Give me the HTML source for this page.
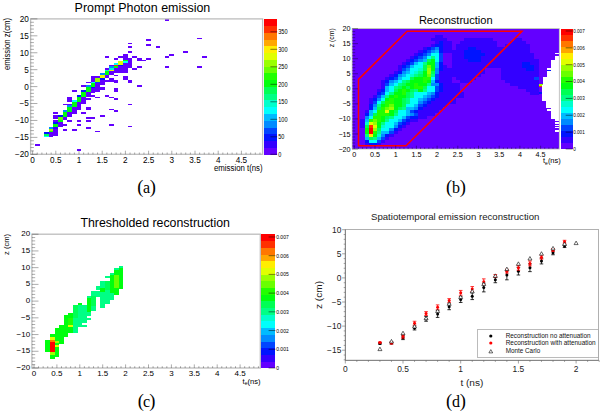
<!DOCTYPE html><html><head><meta charset="utf-8"><style>html,body{margin:0;padding:0;background:#fff;}svg{display:block;}rect{shape-rendering:crispEdges;}text{font-family:"Liberation Sans",sans-serif;}text.ser{font-family:"Liberation Serif",serif;}</style></head><body>
<svg width="602" height="414" viewBox="0 0 602 414">
<rect width="602" height="414" fill="#fff"/>
<rect x="44.20" y="135.68" width="4.64" height="1.69" fill="#00fffc"/>
<rect x="44.20" y="133.99" width="4.64" height="1.69" fill="#00ff55"/>
<rect x="44.20" y="132.30" width="4.64" height="1.69" fill="#0014ff"/>
<rect x="48.84" y="130.61" width="4.64" height="1.69" fill="#22ff00"/>
<rect x="48.84" y="128.91" width="4.64" height="1.69" fill="#99ff00"/>
<rect x="48.84" y="127.22" width="4.64" height="1.69" fill="#008bff"/>
<rect x="53.48" y="127.22" width="4.64" height="1.69" fill="#3300ff"/>
<rect x="53.48" y="125.53" width="4.64" height="1.69" fill="#00ff0e"/>
<rect x="53.48" y="123.84" width="4.64" height="1.69" fill="#00ff0e"/>
<rect x="53.48" y="122.14" width="4.64" height="1.69" fill="#0014ff"/>
<rect x="58.12" y="120.45" width="4.64" height="1.69" fill="#00ff0e"/>
<rect x="58.12" y="118.76" width="4.64" height="1.69" fill="#69ff00"/>
<rect x="58.12" y="117.07" width="4.64" height="1.69" fill="#69ff00"/>
<rect x="58.12" y="115.37" width="4.64" height="1.69" fill="#0014ff"/>
<rect x="62.76" y="115.37" width="4.64" height="1.69" fill="#00ff0e"/>
<rect x="62.76" y="113.68" width="4.64" height="1.69" fill="#00ff0e"/>
<rect x="62.76" y="111.99" width="4.64" height="1.69" fill="#00ff0e"/>
<rect x="62.76" y="110.30" width="4.64" height="1.69" fill="#008bff"/>
<rect x="67.40" y="110.30" width="4.64" height="1.69" fill="#00ff0e"/>
<rect x="67.40" y="108.60" width="4.64" height="1.69" fill="#00ff0e"/>
<rect x="67.40" y="106.91" width="4.64" height="1.69" fill="#00ff0e"/>
<rect x="67.40" y="105.22" width="4.64" height="1.69" fill="#008bff"/>
<rect x="72.04" y="105.22" width="4.64" height="1.69" fill="#00ff0e"/>
<rect x="72.04" y="103.53" width="4.64" height="1.69" fill="#00ff0e"/>
<rect x="72.04" y="101.83" width="4.64" height="1.69" fill="#00ff0e"/>
<rect x="72.04" y="100.14" width="4.64" height="1.69" fill="#00fffc"/>
<rect x="76.68" y="100.14" width="4.64" height="1.69" fill="#00ff0e"/>
<rect x="76.68" y="98.45" width="4.64" height="1.69" fill="#00ff0e"/>
<rect x="76.68" y="96.76" width="4.64" height="1.69" fill="#00ff0e"/>
<rect x="76.68" y="95.06" width="4.64" height="1.69" fill="#0014ff"/>
<rect x="81.32" y="95.06" width="4.64" height="1.69" fill="#00ff0e"/>
<rect x="81.32" y="93.37" width="4.64" height="1.69" fill="#00ff0e"/>
<rect x="81.32" y="91.68" width="4.64" height="1.69" fill="#00ff0e"/>
<rect x="81.32" y="89.99" width="4.64" height="1.69" fill="#0014ff"/>
<rect x="85.96" y="89.99" width="4.64" height="1.69" fill="#00ff0e"/>
<rect x="85.96" y="88.29" width="4.64" height="1.69" fill="#00ff0e"/>
<rect x="85.96" y="86.60" width="4.64" height="1.69" fill="#00ff0e"/>
<rect x="85.96" y="84.91" width="4.64" height="1.69" fill="#008bff"/>
<rect x="90.60" y="86.60" width="4.64" height="1.69" fill="#0014ff"/>
<rect x="90.60" y="84.91" width="4.64" height="1.69" fill="#00ff0e"/>
<rect x="90.60" y="83.22" width="4.64" height="1.69" fill="#00ff0e"/>
<rect x="90.60" y="81.52" width="4.64" height="1.69" fill="#00fffc"/>
<rect x="95.24" y="81.52" width="4.64" height="1.69" fill="#0044ff"/>
<rect x="95.24" y="79.83" width="4.64" height="1.69" fill="#99ff00"/>
<rect x="95.24" y="78.14" width="4.64" height="1.69" fill="#99ff00"/>
<rect x="99.88" y="78.14" width="4.64" height="1.69" fill="#0014ff"/>
<rect x="99.88" y="76.45" width="4.64" height="1.69" fill="#e0ff00"/>
<rect x="99.88" y="74.75" width="4.64" height="1.69" fill="#e0ff00"/>
<rect x="99.88" y="73.06" width="4.64" height="1.69" fill="#008bff"/>
<rect x="104.52" y="73.06" width="4.64" height="1.69" fill="#00ff0e"/>
<rect x="104.52" y="71.37" width="4.64" height="1.69" fill="#00ff0e"/>
<rect x="104.52" y="69.68" width="4.64" height="1.69" fill="#00ffcc"/>
<rect x="109.16" y="69.68" width="4.64" height="1.69" fill="#e0ff00"/>
<rect x="109.16" y="67.98" width="4.64" height="1.69" fill="#00ffcc"/>
<rect x="109.16" y="66.29" width="4.64" height="1.69" fill="#008bff"/>
<rect x="113.80" y="66.29" width="4.64" height="1.69" fill="#00ff0e"/>
<rect x="113.80" y="64.60" width="4.64" height="1.69" fill="#ff3000"/>
<rect x="113.80" y="62.91" width="4.64" height="1.69" fill="#00fffc"/>
<rect x="118.44" y="64.60" width="4.64" height="1.69" fill="#0014ff"/>
<rect x="118.44" y="62.91" width="4.64" height="1.69" fill="#e0ff00"/>
<rect x="118.44" y="61.21" width="4.64" height="1.69" fill="#e0ff00"/>
<rect x="123.08" y="61.21" width="4.64" height="1.69" fill="#00fffc"/>
<rect x="123.08" y="59.52" width="4.64" height="1.69" fill="#00ff0e"/>
<rect x="48.84" y="135.68" width="4.64" height="1.69" fill="#6300ff"/>
<rect x="48.84" y="133.99" width="4.64" height="1.69" fill="#6300ff"/>
<rect x="48.84" y="132.30" width="4.64" height="1.69" fill="#6300ff"/>
<rect x="53.48" y="133.99" width="4.64" height="1.69" fill="#6300ff"/>
<rect x="53.48" y="132.30" width="4.64" height="1.69" fill="#6300ff"/>
<rect x="53.48" y="130.61" width="4.64" height="1.69" fill="#6300ff"/>
<rect x="53.48" y="128.91" width="4.64" height="1.69" fill="#6300ff"/>
<rect x="53.48" y="120.45" width="4.64" height="1.69" fill="#6300ff"/>
<rect x="53.48" y="117.07" width="4.64" height="1.69" fill="#6300ff"/>
<rect x="53.48" y="111.99" width="4.64" height="1.69" fill="#6300ff"/>
<rect x="58.12" y="125.53" width="4.64" height="1.69" fill="#6300ff"/>
<rect x="58.12" y="123.84" width="4.64" height="1.69" fill="#6300ff"/>
<rect x="58.12" y="122.14" width="4.64" height="1.69" fill="#6300ff"/>
<rect x="62.76" y="118.76" width="4.64" height="1.69" fill="#6300ff"/>
<rect x="62.76" y="117.07" width="4.64" height="1.69" fill="#6300ff"/>
<rect x="62.76" y="123.84" width="4.64" height="1.69" fill="#6300ff"/>
<rect x="62.76" y="128.91" width="4.64" height="1.69" fill="#6300ff"/>
<rect x="67.40" y="115.37" width="4.64" height="1.69" fill="#6300ff"/>
<rect x="67.40" y="113.68" width="4.64" height="1.69" fill="#6300ff"/>
<rect x="67.40" y="111.99" width="4.64" height="1.69" fill="#6300ff"/>
<rect x="67.40" y="103.53" width="4.64" height="1.69" fill="#6300ff"/>
<rect x="67.40" y="100.14" width="4.64" height="1.69" fill="#6300ff"/>
<rect x="67.40" y="98.45" width="4.64" height="1.69" fill="#6300ff"/>
<rect x="67.40" y="120.45" width="4.64" height="1.69" fill="#6300ff"/>
<rect x="72.04" y="111.99" width="4.64" height="1.69" fill="#6300ff"/>
<rect x="72.04" y="110.30" width="4.64" height="1.69" fill="#6300ff"/>
<rect x="72.04" y="108.60" width="4.64" height="1.69" fill="#6300ff"/>
<rect x="72.04" y="106.91" width="4.64" height="1.69" fill="#6300ff"/>
<rect x="72.04" y="89.99" width="4.64" height="1.69" fill="#6300ff"/>
<rect x="76.68" y="105.22" width="4.64" height="1.69" fill="#6300ff"/>
<rect x="76.68" y="103.53" width="4.64" height="1.69" fill="#6300ff"/>
<rect x="76.68" y="101.83" width="4.64" height="1.69" fill="#6300ff"/>
<rect x="76.68" y="108.60" width="4.64" height="1.69" fill="#6300ff"/>
<rect x="76.68" y="106.91" width="4.64" height="1.69" fill="#6300ff"/>
<rect x="81.32" y="100.14" width="4.64" height="1.69" fill="#6300ff"/>
<rect x="81.32" y="98.45" width="4.64" height="1.69" fill="#6300ff"/>
<rect x="81.32" y="96.76" width="4.64" height="1.69" fill="#6300ff"/>
<rect x="81.32" y="84.91" width="4.64" height="1.69" fill="#6300ff"/>
<rect x="81.32" y="101.83" width="4.64" height="1.69" fill="#6300ff"/>
<rect x="85.96" y="95.06" width="4.64" height="1.69" fill="#6300ff"/>
<rect x="85.96" y="93.37" width="4.64" height="1.69" fill="#6300ff"/>
<rect x="85.96" y="91.68" width="4.64" height="1.69" fill="#6300ff"/>
<rect x="85.96" y="81.52" width="4.64" height="1.69" fill="#6300ff"/>
<rect x="85.96" y="98.45" width="4.64" height="1.69" fill="#6300ff"/>
<rect x="85.96" y="106.91" width="4.64" height="1.69" fill="#6300ff"/>
<rect x="90.60" y="91.68" width="4.64" height="1.69" fill="#6300ff"/>
<rect x="90.60" y="89.99" width="4.64" height="1.69" fill="#6300ff"/>
<rect x="90.60" y="88.29" width="4.64" height="1.69" fill="#6300ff"/>
<rect x="90.60" y="79.83" width="4.64" height="1.69" fill="#6300ff"/>
<rect x="90.60" y="78.14" width="4.64" height="1.69" fill="#6300ff"/>
<rect x="90.60" y="76.45" width="4.64" height="1.69" fill="#6300ff"/>
<rect x="95.24" y="89.99" width="4.64" height="1.69" fill="#6300ff"/>
<rect x="95.24" y="88.29" width="4.64" height="1.69" fill="#6300ff"/>
<rect x="95.24" y="86.60" width="4.64" height="1.69" fill="#6300ff"/>
<rect x="95.24" y="84.91" width="4.64" height="1.69" fill="#6300ff"/>
<rect x="95.24" y="83.22" width="4.64" height="1.69" fill="#6300ff"/>
<rect x="95.24" y="76.45" width="4.64" height="1.69" fill="#6300ff"/>
<rect x="99.88" y="83.22" width="4.64" height="1.69" fill="#6300ff"/>
<rect x="99.88" y="81.52" width="4.64" height="1.69" fill="#6300ff"/>
<rect x="99.88" y="79.83" width="4.64" height="1.69" fill="#6300ff"/>
<rect x="99.88" y="88.29" width="4.64" height="1.69" fill="#6300ff"/>
<rect x="99.88" y="86.60" width="4.64" height="1.69" fill="#6300ff"/>
<rect x="104.52" y="76.45" width="4.64" height="1.69" fill="#6300ff"/>
<rect x="104.52" y="74.75" width="4.64" height="1.69" fill="#6300ff"/>
<rect x="104.52" y="67.98" width="4.64" height="1.69" fill="#6300ff"/>
<rect x="104.52" y="56.14" width="4.64" height="1.69" fill="#6300ff"/>
<rect x="104.52" y="79.83" width="4.64" height="1.69" fill="#6300ff"/>
<rect x="109.16" y="73.06" width="4.64" height="1.69" fill="#6300ff"/>
<rect x="109.16" y="71.37" width="4.64" height="1.69" fill="#6300ff"/>
<rect x="109.16" y="64.60" width="4.64" height="1.69" fill="#6300ff"/>
<rect x="109.16" y="79.83" width="4.64" height="1.69" fill="#6300ff"/>
<rect x="109.16" y="78.14" width="4.64" height="1.69" fill="#6300ff"/>
<rect x="113.80" y="71.37" width="4.64" height="1.69" fill="#6300ff"/>
<rect x="113.80" y="69.68" width="4.64" height="1.69" fill="#6300ff"/>
<rect x="113.80" y="67.98" width="4.64" height="1.69" fill="#6300ff"/>
<rect x="113.80" y="74.75" width="4.64" height="1.69" fill="#6300ff"/>
<rect x="113.80" y="81.52" width="4.64" height="1.69" fill="#6300ff"/>
<rect x="113.80" y="79.83" width="4.64" height="1.69" fill="#6300ff"/>
<rect x="113.80" y="57.83" width="4.64" height="1.69" fill="#6300ff"/>
<rect x="113.80" y="89.99" width="4.64" height="1.69" fill="#6300ff"/>
<rect x="118.44" y="71.37" width="4.64" height="1.69" fill="#6300ff"/>
<rect x="118.44" y="69.68" width="4.64" height="1.69" fill="#6300ff"/>
<rect x="118.44" y="67.98" width="4.64" height="1.69" fill="#6300ff"/>
<rect x="118.44" y="66.29" width="4.64" height="1.69" fill="#6300ff"/>
<rect x="123.08" y="71.37" width="4.64" height="1.69" fill="#6300ff"/>
<rect x="123.08" y="69.68" width="4.64" height="1.69" fill="#6300ff"/>
<rect x="123.08" y="67.98" width="4.64" height="1.69" fill="#6300ff"/>
<rect x="123.08" y="66.29" width="4.64" height="1.69" fill="#6300ff"/>
<rect x="123.08" y="64.60" width="4.64" height="1.69" fill="#6300ff"/>
<rect x="123.08" y="62.91" width="4.64" height="1.69" fill="#6300ff"/>
<rect x="123.08" y="57.83" width="4.64" height="1.69" fill="#6300ff"/>
<rect x="123.08" y="56.14" width="4.64" height="1.69" fill="#6300ff"/>
<rect x="123.08" y="54.44" width="4.64" height="1.69" fill="#6300ff"/>
<rect x="123.08" y="78.14" width="4.64" height="1.69" fill="#6300ff"/>
<rect x="123.08" y="76.45" width="4.64" height="1.69" fill="#6300ff"/>
<rect x="127.72" y="66.29" width="4.64" height="1.69" fill="#6300ff"/>
<rect x="127.72" y="64.60" width="4.64" height="1.69" fill="#6300ff"/>
<rect x="127.72" y="62.91" width="4.64" height="1.69" fill="#6300ff"/>
<rect x="127.72" y="61.21" width="4.64" height="1.69" fill="#6300ff"/>
<rect x="127.72" y="59.52" width="4.64" height="1.69" fill="#6300ff"/>
<rect x="127.72" y="57.83" width="4.64" height="1.69" fill="#6300ff"/>
<rect x="127.72" y="51.06" width="4.64" height="1.69" fill="#6300ff"/>
<rect x="127.72" y="45.98" width="4.64" height="1.69" fill="#6300ff"/>
<rect x="127.72" y="81.52" width="4.64" height="1.69" fill="#6300ff"/>
<rect x="132.36" y="56.14" width="4.64" height="1.69" fill="#6300ff"/>
<rect x="132.36" y="67.98" width="4.64" height="1.69" fill="#6300ff"/>
<rect x="137.00" y="59.52" width="4.64" height="1.69" fill="#6300ff"/>
<rect x="137.00" y="57.83" width="4.64" height="1.69" fill="#6300ff"/>
<rect x="137.00" y="66.29" width="4.64" height="1.69" fill="#6300ff"/>
<rect x="34.92" y="144.15" width="4.64" height="1.69" fill="#6300ff"/>
<rect x="76.68" y="149.22" width="4.64" height="1.69" fill="#6300ff"/>
<rect x="53.48" y="115.37" width="4.64" height="1.69" fill="#6300ff"/>
<rect x="62.76" y="103.53" width="4.64" height="1.69" fill="#6300ff"/>
<rect x="67.40" y="96.76" width="4.64" height="1.69" fill="#6300ff"/>
<rect x="72.04" y="128.91" width="4.64" height="1.69" fill="#6300ff"/>
<rect x="76.68" y="120.45" width="4.64" height="1.69" fill="#6300ff"/>
<rect x="76.68" y="123.84" width="4.64" height="1.69" fill="#6300ff"/>
<rect x="81.32" y="111.99" width="4.64" height="1.69" fill="#6300ff"/>
<rect x="85.96" y="117.07" width="4.64" height="1.69" fill="#6300ff"/>
<rect x="85.96" y="120.45" width="4.64" height="1.69" fill="#6300ff"/>
<rect x="85.96" y="127.22" width="4.64" height="1.69" fill="#6300ff"/>
<rect x="90.60" y="117.07" width="4.64" height="1.69" fill="#6300ff"/>
<rect x="95.24" y="130.61" width="4.64" height="1.69" fill="#6300ff"/>
<rect x="99.88" y="115.37" width="4.64" height="1.69" fill="#6300ff"/>
<rect x="90.60" y="95.06" width="4.64" height="1.69" fill="#6300ff"/>
<rect x="95.24" y="96.76" width="4.64" height="1.69" fill="#6300ff"/>
<rect x="104.52" y="95.06" width="4.64" height="1.69" fill="#6300ff"/>
<rect x="109.16" y="96.76" width="4.64" height="1.69" fill="#6300ff"/>
<rect x="113.80" y="98.45" width="4.64" height="1.69" fill="#6300ff"/>
<rect x="109.16" y="108.60" width="4.64" height="1.69" fill="#6300ff"/>
<rect x="113.80" y="110.30" width="4.64" height="1.69" fill="#6300ff"/>
<rect x="109.16" y="123.84" width="4.64" height="1.69" fill="#6300ff"/>
<rect x="127.72" y="103.53" width="4.64" height="1.69" fill="#6300ff"/>
<rect x="127.72" y="125.53" width="4.64" height="1.69" fill="#6300ff"/>
<rect x="113.80" y="88.29" width="4.64" height="1.69" fill="#6300ff"/>
<rect x="164.84" y="18.90" width="4.64" height="1.69" fill="#6300ff"/>
<rect x="127.72" y="42.60" width="4.64" height="1.69" fill="#6300ff"/>
<rect x="146.28" y="39.21" width="4.64" height="1.69" fill="#6300ff"/>
<rect x="146.28" y="44.29" width="4.64" height="1.69" fill="#6300ff"/>
<rect x="155.56" y="45.98" width="4.64" height="1.69" fill="#6300ff"/>
<rect x="183.40" y="51.06" width="4.64" height="1.69" fill="#6300ff"/>
<rect x="164.84" y="56.14" width="4.64" height="1.69" fill="#6300ff"/>
<rect x="169.48" y="54.44" width="4.64" height="1.69" fill="#6300ff"/>
<rect x="164.84" y="66.29" width="4.64" height="1.69" fill="#6300ff"/>
<rect x="137.00" y="84.91" width="4.64" height="1.69" fill="#6300ff"/>
<rect x="141.64" y="59.52" width="4.64" height="1.69" fill="#6300ff"/>
<rect x="146.28" y="57.83" width="4.64" height="1.69" fill="#6300ff"/>
<rect x="118.44" y="56.14" width="4.64" height="1.69" fill="#6300ff"/>
<rect x="127.72" y="79.83" width="4.64" height="1.69" fill="#6300ff"/>
<rect x="197.32" y="37.52" width="4.64" height="1.69" fill="#6300ff"/>
<rect x="201.96" y="56.14" width="4.64" height="1.69" fill="#6300ff"/>
<rect x="197.32" y="66.29" width="4.64" height="1.69" fill="#6300ff"/>
<rect x="85.96" y="108.60" width="4.64" height="1.69" fill="#6300ff"/>
<rect x="30.6" y="18.9" width="232.00" height="135.40" fill="none" stroke="#bdbdbd" stroke-width="1.3" style="shape-rendering:auto"/>
<line x1="30.6" y1="154.30" x2="37.40" y2="154.30" stroke="#000" stroke-width="0.6" stroke-opacity="0.55"/>
<line x1="30.6" y1="150.91" x2="33.90" y2="150.91" stroke="#000" stroke-width="0.6" stroke-opacity="0.55"/>
<line x1="30.6" y1="147.53" x2="33.90" y2="147.53" stroke="#000" stroke-width="0.6" stroke-opacity="0.55"/>
<line x1="30.6" y1="144.14" x2="33.90" y2="144.14" stroke="#000" stroke-width="0.6" stroke-opacity="0.55"/>
<line x1="30.6" y1="140.76" x2="33.90" y2="140.76" stroke="#000" stroke-width="0.6" stroke-opacity="0.55"/>
<line x1="30.6" y1="137.38" x2="37.40" y2="137.38" stroke="#000" stroke-width="0.6" stroke-opacity="0.55"/>
<line x1="30.6" y1="133.99" x2="33.90" y2="133.99" stroke="#000" stroke-width="0.6" stroke-opacity="0.55"/>
<line x1="30.6" y1="130.60" x2="33.90" y2="130.60" stroke="#000" stroke-width="0.6" stroke-opacity="0.55"/>
<line x1="30.6" y1="127.22" x2="33.90" y2="127.22" stroke="#000" stroke-width="0.6" stroke-opacity="0.55"/>
<line x1="30.6" y1="123.83" x2="33.90" y2="123.83" stroke="#000" stroke-width="0.6" stroke-opacity="0.55"/>
<line x1="30.6" y1="120.45" x2="37.40" y2="120.45" stroke="#000" stroke-width="0.6" stroke-opacity="0.55"/>
<line x1="30.6" y1="117.06" x2="33.90" y2="117.06" stroke="#000" stroke-width="0.6" stroke-opacity="0.55"/>
<line x1="30.6" y1="113.68" x2="33.90" y2="113.68" stroke="#000" stroke-width="0.6" stroke-opacity="0.55"/>
<line x1="30.6" y1="110.29" x2="33.90" y2="110.29" stroke="#000" stroke-width="0.6" stroke-opacity="0.55"/>
<line x1="30.6" y1="106.91" x2="33.90" y2="106.91" stroke="#000" stroke-width="0.6" stroke-opacity="0.55"/>
<line x1="30.6" y1="103.52" x2="37.40" y2="103.52" stroke="#000" stroke-width="0.6" stroke-opacity="0.55"/>
<line x1="30.6" y1="100.14" x2="33.90" y2="100.14" stroke="#000" stroke-width="0.6" stroke-opacity="0.55"/>
<line x1="30.6" y1="96.75" x2="33.90" y2="96.75" stroke="#000" stroke-width="0.6" stroke-opacity="0.55"/>
<line x1="30.6" y1="93.37" x2="33.90" y2="93.37" stroke="#000" stroke-width="0.6" stroke-opacity="0.55"/>
<line x1="30.6" y1="89.98" x2="33.90" y2="89.98" stroke="#000" stroke-width="0.6" stroke-opacity="0.55"/>
<line x1="30.6" y1="86.60" x2="37.40" y2="86.60" stroke="#000" stroke-width="0.6" stroke-opacity="0.55"/>
<line x1="30.6" y1="83.21" x2="33.90" y2="83.21" stroke="#000" stroke-width="0.6" stroke-opacity="0.55"/>
<line x1="30.6" y1="79.83" x2="33.90" y2="79.83" stroke="#000" stroke-width="0.6" stroke-opacity="0.55"/>
<line x1="30.6" y1="76.44" x2="33.90" y2="76.44" stroke="#000" stroke-width="0.6" stroke-opacity="0.55"/>
<line x1="30.6" y1="73.06" x2="33.90" y2="73.06" stroke="#000" stroke-width="0.6" stroke-opacity="0.55"/>
<line x1="30.6" y1="69.67" x2="37.40" y2="69.67" stroke="#000" stroke-width="0.6" stroke-opacity="0.55"/>
<line x1="30.6" y1="66.29" x2="33.90" y2="66.29" stroke="#000" stroke-width="0.6" stroke-opacity="0.55"/>
<line x1="30.6" y1="62.90" x2="33.90" y2="62.90" stroke="#000" stroke-width="0.6" stroke-opacity="0.55"/>
<line x1="30.6" y1="59.52" x2="33.90" y2="59.52" stroke="#000" stroke-width="0.6" stroke-opacity="0.55"/>
<line x1="30.6" y1="56.13" x2="33.90" y2="56.13" stroke="#000" stroke-width="0.6" stroke-opacity="0.55"/>
<line x1="30.6" y1="52.75" x2="37.40" y2="52.75" stroke="#000" stroke-width="0.6" stroke-opacity="0.55"/>
<line x1="30.6" y1="49.36" x2="33.90" y2="49.36" stroke="#000" stroke-width="0.6" stroke-opacity="0.55"/>
<line x1="30.6" y1="45.98" x2="33.90" y2="45.98" stroke="#000" stroke-width="0.6" stroke-opacity="0.55"/>
<line x1="30.6" y1="42.59" x2="33.90" y2="42.59" stroke="#000" stroke-width="0.6" stroke-opacity="0.55"/>
<line x1="30.6" y1="39.21" x2="33.90" y2="39.21" stroke="#000" stroke-width="0.6" stroke-opacity="0.55"/>
<line x1="30.6" y1="35.82" x2="37.40" y2="35.82" stroke="#000" stroke-width="0.6" stroke-opacity="0.55"/>
<line x1="30.6" y1="32.44" x2="33.90" y2="32.44" stroke="#000" stroke-width="0.6" stroke-opacity="0.55"/>
<line x1="30.6" y1="29.05" x2="33.90" y2="29.05" stroke="#000" stroke-width="0.6" stroke-opacity="0.55"/>
<line x1="30.6" y1="25.67" x2="33.90" y2="25.67" stroke="#000" stroke-width="0.6" stroke-opacity="0.55"/>
<line x1="30.6" y1="22.28" x2="33.90" y2="22.28" stroke="#000" stroke-width="0.6" stroke-opacity="0.55"/>
<line x1="30.6" y1="18.90" x2="37.40" y2="18.90" stroke="#000" stroke-width="0.6" stroke-opacity="0.55"/>
<line x1="32.60" y1="154.3" x2="32.60" y2="150.70" stroke="#000" stroke-width="0.6" stroke-opacity="0.55"/>
<line x1="37.24" y1="154.3" x2="37.24" y2="152.50" stroke="#000" stroke-width="0.6" stroke-opacity="0.55"/>
<line x1="41.88" y1="154.3" x2="41.88" y2="152.50" stroke="#000" stroke-width="0.6" stroke-opacity="0.55"/>
<line x1="46.52" y1="154.3" x2="46.52" y2="152.50" stroke="#000" stroke-width="0.6" stroke-opacity="0.55"/>
<line x1="51.16" y1="154.3" x2="51.16" y2="152.50" stroke="#000" stroke-width="0.6" stroke-opacity="0.55"/>
<line x1="55.80" y1="154.3" x2="55.80" y2="150.70" stroke="#000" stroke-width="0.6" stroke-opacity="0.55"/>
<line x1="60.44" y1="154.3" x2="60.44" y2="152.50" stroke="#000" stroke-width="0.6" stroke-opacity="0.55"/>
<line x1="65.08" y1="154.3" x2="65.08" y2="152.50" stroke="#000" stroke-width="0.6" stroke-opacity="0.55"/>
<line x1="69.72" y1="154.3" x2="69.72" y2="152.50" stroke="#000" stroke-width="0.6" stroke-opacity="0.55"/>
<line x1="74.36" y1="154.3" x2="74.36" y2="152.50" stroke="#000" stroke-width="0.6" stroke-opacity="0.55"/>
<line x1="79.00" y1="154.3" x2="79.00" y2="150.70" stroke="#000" stroke-width="0.6" stroke-opacity="0.55"/>
<line x1="83.64" y1="154.3" x2="83.64" y2="152.50" stroke="#000" stroke-width="0.6" stroke-opacity="0.55"/>
<line x1="88.28" y1="154.3" x2="88.28" y2="152.50" stroke="#000" stroke-width="0.6" stroke-opacity="0.55"/>
<line x1="92.92" y1="154.3" x2="92.92" y2="152.50" stroke="#000" stroke-width="0.6" stroke-opacity="0.55"/>
<line x1="97.56" y1="154.3" x2="97.56" y2="152.50" stroke="#000" stroke-width="0.6" stroke-opacity="0.55"/>
<line x1="102.20" y1="154.3" x2="102.20" y2="150.70" stroke="#000" stroke-width="0.6" stroke-opacity="0.55"/>
<line x1="106.84" y1="154.3" x2="106.84" y2="152.50" stroke="#000" stroke-width="0.6" stroke-opacity="0.55"/>
<line x1="111.48" y1="154.3" x2="111.48" y2="152.50" stroke="#000" stroke-width="0.6" stroke-opacity="0.55"/>
<line x1="116.12" y1="154.3" x2="116.12" y2="152.50" stroke="#000" stroke-width="0.6" stroke-opacity="0.55"/>
<line x1="120.76" y1="154.3" x2="120.76" y2="152.50" stroke="#000" stroke-width="0.6" stroke-opacity="0.55"/>
<line x1="125.40" y1="154.3" x2="125.40" y2="150.70" stroke="#000" stroke-width="0.6" stroke-opacity="0.55"/>
<line x1="130.04" y1="154.3" x2="130.04" y2="152.50" stroke="#000" stroke-width="0.6" stroke-opacity="0.55"/>
<line x1="134.68" y1="154.3" x2="134.68" y2="152.50" stroke="#000" stroke-width="0.6" stroke-opacity="0.55"/>
<line x1="139.32" y1="154.3" x2="139.32" y2="152.50" stroke="#000" stroke-width="0.6" stroke-opacity="0.55"/>
<line x1="143.96" y1="154.3" x2="143.96" y2="152.50" stroke="#000" stroke-width="0.6" stroke-opacity="0.55"/>
<line x1="148.60" y1="154.3" x2="148.60" y2="150.70" stroke="#000" stroke-width="0.6" stroke-opacity="0.55"/>
<line x1="153.24" y1="154.3" x2="153.24" y2="152.50" stroke="#000" stroke-width="0.6" stroke-opacity="0.55"/>
<line x1="157.88" y1="154.3" x2="157.88" y2="152.50" stroke="#000" stroke-width="0.6" stroke-opacity="0.55"/>
<line x1="162.52" y1="154.3" x2="162.52" y2="152.50" stroke="#000" stroke-width="0.6" stroke-opacity="0.55"/>
<line x1="167.16" y1="154.3" x2="167.16" y2="152.50" stroke="#000" stroke-width="0.6" stroke-opacity="0.55"/>
<line x1="171.80" y1="154.3" x2="171.80" y2="150.70" stroke="#000" stroke-width="0.6" stroke-opacity="0.55"/>
<line x1="176.44" y1="154.3" x2="176.44" y2="152.50" stroke="#000" stroke-width="0.6" stroke-opacity="0.55"/>
<line x1="181.08" y1="154.3" x2="181.08" y2="152.50" stroke="#000" stroke-width="0.6" stroke-opacity="0.55"/>
<line x1="185.72" y1="154.3" x2="185.72" y2="152.50" stroke="#000" stroke-width="0.6" stroke-opacity="0.55"/>
<line x1="190.36" y1="154.3" x2="190.36" y2="152.50" stroke="#000" stroke-width="0.6" stroke-opacity="0.55"/>
<line x1="195.00" y1="154.3" x2="195.00" y2="150.70" stroke="#000" stroke-width="0.6" stroke-opacity="0.55"/>
<line x1="199.64" y1="154.3" x2="199.64" y2="152.50" stroke="#000" stroke-width="0.6" stroke-opacity="0.55"/>
<line x1="204.28" y1="154.3" x2="204.28" y2="152.50" stroke="#000" stroke-width="0.6" stroke-opacity="0.55"/>
<line x1="208.92" y1="154.3" x2="208.92" y2="152.50" stroke="#000" stroke-width="0.6" stroke-opacity="0.55"/>
<line x1="213.56" y1="154.3" x2="213.56" y2="152.50" stroke="#000" stroke-width="0.6" stroke-opacity="0.55"/>
<line x1="218.20" y1="154.3" x2="218.20" y2="150.70" stroke="#000" stroke-width="0.6" stroke-opacity="0.55"/>
<line x1="222.84" y1="154.3" x2="222.84" y2="152.50" stroke="#000" stroke-width="0.6" stroke-opacity="0.55"/>
<line x1="227.48" y1="154.3" x2="227.48" y2="152.50" stroke="#000" stroke-width="0.6" stroke-opacity="0.55"/>
<line x1="232.12" y1="154.3" x2="232.12" y2="152.50" stroke="#000" stroke-width="0.6" stroke-opacity="0.55"/>
<line x1="236.76" y1="154.3" x2="236.76" y2="152.50" stroke="#000" stroke-width="0.6" stroke-opacity="0.55"/>
<line x1="241.40" y1="154.3" x2="241.40" y2="150.70" stroke="#000" stroke-width="0.6" stroke-opacity="0.55"/>
<line x1="246.04" y1="154.3" x2="246.04" y2="152.50" stroke="#000" stroke-width="0.6" stroke-opacity="0.55"/>
<line x1="250.68" y1="154.3" x2="250.68" y2="152.50" stroke="#000" stroke-width="0.6" stroke-opacity="0.55"/>
<line x1="255.32" y1="154.3" x2="255.32" y2="152.50" stroke="#000" stroke-width="0.6" stroke-opacity="0.55"/>
<line x1="259.96" y1="154.3" x2="259.96" y2="152.50" stroke="#000" stroke-width="0.6" stroke-opacity="0.55"/>
<text class="san" x="28.8" y="157.25199999999998" font-size="8.2" text-anchor="end" fill="#000" >&#8722;20</text>
<text class="san" x="28.8" y="140.327" font-size="8.2" text-anchor="end" fill="#000" >&#8722;15</text>
<text class="san" x="28.8" y="123.40199999999999" font-size="8.2" text-anchor="end" fill="#000" >&#8722;10</text>
<text class="san" x="28.8" y="106.47699999999999" font-size="8.2" text-anchor="end" fill="#000" >&#8722;5</text>
<text class="san" x="28.8" y="89.55199999999999" font-size="8.2" text-anchor="end" fill="#000" >0</text>
<text class="san" x="28.8" y="72.627" font-size="8.2" text-anchor="end" fill="#000" >5</text>
<text class="san" x="28.8" y="55.702" font-size="8.2" text-anchor="end" fill="#000" >10</text>
<text class="san" x="28.8" y="38.776999999999994" font-size="8.2" text-anchor="end" fill="#000" >15</text>
<text class="san" x="28.8" y="21.852000000000004" font-size="8.2" text-anchor="end" fill="#000" >20</text>
<text class="san" x="32.6" y="162.5" font-size="8.2" text-anchor="middle" fill="#000" >0</text>
<text class="san" x="55.8" y="162.5" font-size="8.2" text-anchor="middle" fill="#000" >0.5</text>
<text class="san" x="79.0" y="162.5" font-size="8.2" text-anchor="middle" fill="#000" >1</text>
<text class="san" x="102.19999999999999" y="162.5" font-size="8.2" text-anchor="middle" fill="#000" >1.5</text>
<text class="san" x="125.4" y="162.5" font-size="8.2" text-anchor="middle" fill="#000" >2</text>
<text class="san" x="148.6" y="162.5" font-size="8.2" text-anchor="middle" fill="#000" >2.5</text>
<text class="san" x="171.79999999999998" y="162.5" font-size="8.2" text-anchor="middle" fill="#000" >3</text>
<text class="san" x="195.0" y="162.5" font-size="8.2" text-anchor="middle" fill="#000" >3.5</text>
<text class="san" x="218.2" y="162.5" font-size="8.2" text-anchor="middle" fill="#000" >4</text>
<text class="san" x="241.39999999999998" y="162.5" font-size="8.2" text-anchor="middle" fill="#000" >4.5</text>
<rect x="263.90" y="147.53" width="13.30" height="7.07" fill="#6300ff"/>
<rect x="263.90" y="140.76" width="13.30" height="7.07" fill="#3300ff"/>
<rect x="263.90" y="133.99" width="13.30" height="7.07" fill="#0014ff"/>
<rect x="263.90" y="127.22" width="13.30" height="7.07" fill="#0044ff"/>
<rect x="263.90" y="120.45" width="13.30" height="7.07" fill="#008bff"/>
<rect x="263.90" y="113.68" width="13.30" height="7.07" fill="#00bbff"/>
<rect x="263.90" y="106.91" width="13.30" height="7.07" fill="#00fffc"/>
<rect x="263.90" y="100.14" width="13.30" height="7.07" fill="#00ffcc"/>
<rect x="263.90" y="93.37" width="13.30" height="7.07" fill="#00ff85"/>
<rect x="263.90" y="86.60" width="13.30" height="7.07" fill="#00ff55"/>
<rect x="263.90" y="79.83" width="13.30" height="7.07" fill="#00ff0e"/>
<rect x="263.90" y="73.06" width="13.30" height="7.07" fill="#22ff00"/>
<rect x="263.90" y="66.29" width="13.30" height="7.07" fill="#69ff00"/>
<rect x="263.90" y="59.52" width="13.30" height="7.07" fill="#99ff00"/>
<rect x="263.90" y="52.75" width="13.30" height="7.07" fill="#e0ff00"/>
<rect x="263.90" y="45.98" width="13.30" height="7.07" fill="#ffee00"/>
<rect x="263.90" y="39.21" width="13.30" height="7.07" fill="#ffa700"/>
<rect x="263.90" y="32.44" width="13.30" height="7.07" fill="#ff7700"/>
<rect x="263.90" y="25.67" width="13.30" height="7.07" fill="#ff3000"/>
<rect x="263.90" y="18.90" width="13.30" height="7.07" fill="#ff0000"/>
<line x1="270.40" y1="154.30" x2="277.2" y2="154.30" stroke="#000" stroke-width="0.7" stroke-opacity="0.7"/>
<text class="san" x="278.2" y="156.568" font-size="6.3" text-anchor="start" fill="#000" textLength="3.11" lengthAdjust="spacingAndGlyphs" >0</text>
<line x1="270.40" y1="136.80" x2="277.2" y2="136.80" stroke="#000" stroke-width="0.7" stroke-opacity="0.7"/>
<text class="san" x="278.2" y="139.068" font-size="6.3" text-anchor="start" fill="#000" textLength="6.23" lengthAdjust="spacingAndGlyphs" >50</text>
<line x1="270.40" y1="119.30" x2="277.2" y2="119.30" stroke="#000" stroke-width="0.7" stroke-opacity="0.7"/>
<text class="san" x="278.2" y="121.56800000000001" font-size="6.3" text-anchor="start" fill="#000" textLength="9.34" lengthAdjust="spacingAndGlyphs" >100</text>
<line x1="270.40" y1="101.80" x2="277.2" y2="101.80" stroke="#000" stroke-width="0.7" stroke-opacity="0.7"/>
<text class="san" x="278.2" y="104.06800000000001" font-size="6.3" text-anchor="start" fill="#000" textLength="9.34" lengthAdjust="spacingAndGlyphs" >150</text>
<line x1="270.40" y1="84.30" x2="277.2" y2="84.30" stroke="#000" stroke-width="0.7" stroke-opacity="0.7"/>
<text class="san" x="278.2" y="86.56800000000001" font-size="6.3" text-anchor="start" fill="#000" textLength="9.34" lengthAdjust="spacingAndGlyphs" >200</text>
<line x1="270.40" y1="66.80" x2="277.2" y2="66.80" stroke="#000" stroke-width="0.7" stroke-opacity="0.7"/>
<text class="san" x="278.2" y="69.06800000000001" font-size="6.3" text-anchor="start" fill="#000" textLength="9.34" lengthAdjust="spacingAndGlyphs" >250</text>
<line x1="270.40" y1="49.30" x2="277.2" y2="49.30" stroke="#000" stroke-width="0.7" stroke-opacity="0.7"/>
<text class="san" x="278.2" y="51.56800000000001" font-size="6.3" text-anchor="start" fill="#000" textLength="9.34" lengthAdjust="spacingAndGlyphs" >300</text>
<line x1="270.40" y1="31.80" x2="277.2" y2="31.80" stroke="#000" stroke-width="0.7" stroke-opacity="0.7"/>
<text class="san" x="278.2" y="34.06800000000001" font-size="6.3" text-anchor="start" fill="#000" textLength="9.34" lengthAdjust="spacingAndGlyphs" >350</text>
<text class="san" x="74.6" y="11.9" font-size="13" text-anchor="start" fill="#000" textLength="135.7" lengthAdjust="spacingAndGlyphs" >Prompt Photon emission</text>
<text class="san" x="262.6" y="171" font-size="8.4" text-anchor="end" fill="#000" textLength="48.6" lengthAdjust="spacingAndGlyphs" >emission t(ns)</text>
<text transform="translate(10.2,17.8) rotate(-90)" font-size="8.4" text-anchor="end" textLength="52.3" lengthAdjust="spacingAndGlyphs">emission z(cm)</text>
<text class="ser" x="137.2" y="192.5" font-size="18.5" text-anchor="start" fill="#000" >(</text>
<text class="ser" x="156.0" y="192.5" font-size="18.5" text-anchor="end" fill="#000" >)</text>
<text class="ser" x="146.6" y="193" font-size="16" text-anchor="middle" fill="#000" >a</text>
<rect x="352.20" y="28.60" width="207.10" height="120.40" fill="#6300ff"/>
<rect x="435.00" y="34.62" width="8.28" height="3.01" fill="#3300ff"/>
<rect x="430.86" y="37.63" width="16.56" height="3.01" fill="#3300ff"/>
<rect x="463.98" y="37.63" width="28.98" height="3.01" fill="#3300ff"/>
<rect x="513.66" y="37.63" width="8.28" height="3.01" fill="#3300ff"/>
<rect x="435.00" y="40.64" width="4.14" height="3.01" fill="#3300ff"/>
<rect x="439.14" y="40.64" width="4.14" height="3.01" fill="#0014ff"/>
<rect x="443.28" y="40.64" width="8.28" height="3.01" fill="#3300ff"/>
<rect x="459.84" y="40.64" width="37.26" height="3.01" fill="#3300ff"/>
<rect x="509.52" y="40.64" width="16.56" height="3.01" fill="#3300ff"/>
<rect x="430.86" y="43.65" width="4.14" height="3.01" fill="#3300ff"/>
<rect x="435.00" y="43.65" width="8.28" height="3.01" fill="#0014ff"/>
<rect x="443.28" y="43.65" width="8.28" height="3.01" fill="#3300ff"/>
<rect x="455.70" y="43.65" width="41.40" height="3.01" fill="#3300ff"/>
<rect x="505.38" y="43.65" width="24.84" height="3.01" fill="#3300ff"/>
<rect x="422.58" y="46.66" width="4.14" height="3.01" fill="#3300ff"/>
<rect x="426.72" y="46.66" width="4.14" height="3.01" fill="#0014ff"/>
<rect x="430.86" y="46.66" width="4.14" height="3.01" fill="#0044ff"/>
<rect x="435.00" y="46.66" width="4.14" height="3.01" fill="#008bff"/>
<rect x="439.14" y="46.66" width="4.14" height="3.01" fill="#0014ff"/>
<rect x="443.28" y="46.66" width="8.28" height="3.01" fill="#3300ff"/>
<rect x="455.70" y="46.66" width="12.42" height="3.01" fill="#3300ff"/>
<rect x="468.12" y="46.66" width="8.28" height="3.01" fill="#0014ff"/>
<rect x="476.40" y="46.66" width="53.82" height="3.01" fill="#3300ff"/>
<rect x="418.44" y="49.67" width="4.14" height="3.01" fill="#3300ff"/>
<rect x="422.58" y="49.67" width="4.14" height="3.01" fill="#0014ff"/>
<rect x="426.72" y="49.67" width="4.14" height="3.01" fill="#0044ff"/>
<rect x="430.86" y="49.67" width="4.14" height="3.01" fill="#008bff"/>
<rect x="435.00" y="49.67" width="4.14" height="3.01" fill="#00bbff"/>
<rect x="439.14" y="49.67" width="4.14" height="3.01" fill="#0014ff"/>
<rect x="443.28" y="49.67" width="20.70" height="3.01" fill="#3300ff"/>
<rect x="463.98" y="49.67" width="16.56" height="3.01" fill="#0014ff"/>
<rect x="480.54" y="49.67" width="49.68" height="3.01" fill="#3300ff"/>
<rect x="414.30" y="52.68" width="4.14" height="3.01" fill="#3300ff"/>
<rect x="418.44" y="52.68" width="4.14" height="3.01" fill="#0014ff"/>
<rect x="422.58" y="52.68" width="4.14" height="3.01" fill="#0044ff"/>
<rect x="426.72" y="52.68" width="4.14" height="3.01" fill="#008bff"/>
<rect x="430.86" y="52.68" width="8.28" height="3.01" fill="#00fffc"/>
<rect x="439.14" y="52.68" width="4.14" height="3.01" fill="#0044ff"/>
<rect x="451.56" y="52.68" width="12.42" height="3.01" fill="#3300ff"/>
<rect x="463.98" y="52.68" width="20.70" height="3.01" fill="#0014ff"/>
<rect x="484.68" y="52.68" width="49.68" height="3.01" fill="#3300ff"/>
<rect x="410.16" y="55.69" width="4.14" height="3.01" fill="#3300ff"/>
<rect x="414.30" y="55.69" width="4.14" height="3.01" fill="#0014ff"/>
<rect x="418.44" y="55.69" width="4.14" height="3.01" fill="#0044ff"/>
<rect x="422.58" y="55.69" width="4.14" height="3.01" fill="#008bff"/>
<rect x="426.72" y="55.69" width="4.14" height="3.01" fill="#00fffc"/>
<rect x="430.86" y="55.69" width="4.14" height="3.01" fill="#00ff85"/>
<rect x="435.00" y="55.69" width="4.14" height="3.01" fill="#00fffc"/>
<rect x="439.14" y="55.69" width="4.14" height="3.01" fill="#0044ff"/>
<rect x="451.56" y="55.69" width="12.42" height="3.01" fill="#3300ff"/>
<rect x="463.98" y="55.69" width="16.56" height="3.01" fill="#0014ff"/>
<rect x="480.54" y="55.69" width="53.82" height="3.01" fill="#3300ff"/>
<rect x="406.02" y="58.70" width="4.14" height="3.01" fill="#3300ff"/>
<rect x="410.16" y="58.70" width="4.14" height="3.01" fill="#0014ff"/>
<rect x="414.30" y="58.70" width="4.14" height="3.01" fill="#0044ff"/>
<rect x="418.44" y="58.70" width="4.14" height="3.01" fill="#008bff"/>
<rect x="422.58" y="58.70" width="4.14" height="3.01" fill="#00bbff"/>
<rect x="426.72" y="58.70" width="4.14" height="3.01" fill="#00ff55"/>
<rect x="430.86" y="58.70" width="4.14" height="3.01" fill="#00ff0e"/>
<rect x="435.00" y="58.70" width="4.14" height="3.01" fill="#00fffc"/>
<rect x="439.14" y="58.70" width="4.14" height="3.01" fill="#0044ff"/>
<rect x="451.56" y="58.70" width="16.56" height="3.01" fill="#3300ff"/>
<rect x="468.12" y="58.70" width="12.42" height="3.01" fill="#0014ff"/>
<rect x="480.54" y="58.70" width="57.96" height="3.01" fill="#3300ff"/>
<rect x="401.88" y="61.71" width="4.14" height="3.01" fill="#3300ff"/>
<rect x="406.02" y="61.71" width="4.14" height="3.01" fill="#0014ff"/>
<rect x="410.16" y="61.71" width="4.14" height="3.01" fill="#0044ff"/>
<rect x="414.30" y="61.71" width="4.14" height="3.01" fill="#00bbff"/>
<rect x="418.44" y="61.71" width="4.14" height="3.01" fill="#00fffc"/>
<rect x="422.58" y="61.71" width="4.14" height="3.01" fill="#00ff85"/>
<rect x="426.72" y="61.71" width="8.28" height="3.01" fill="#00ff0e"/>
<rect x="435.00" y="61.71" width="4.14" height="3.01" fill="#00bbff"/>
<rect x="439.14" y="61.71" width="4.14" height="3.01" fill="#0014ff"/>
<rect x="451.56" y="61.71" width="70.38" height="3.01" fill="#3300ff"/>
<rect x="521.94" y="61.71" width="8.28" height="3.01" fill="#0014ff"/>
<rect x="530.22" y="61.71" width="8.28" height="3.01" fill="#3300ff"/>
<rect x="397.74" y="64.72" width="4.14" height="3.01" fill="#3300ff"/>
<rect x="401.88" y="64.72" width="4.14" height="3.01" fill="#0014ff"/>
<rect x="406.02" y="64.72" width="4.14" height="3.01" fill="#0044ff"/>
<rect x="410.16" y="64.72" width="4.14" height="3.01" fill="#00bbff"/>
<rect x="414.30" y="64.72" width="8.28" height="3.01" fill="#00fffc"/>
<rect x="422.58" y="64.72" width="4.14" height="3.01" fill="#00ff55"/>
<rect x="426.72" y="64.72" width="4.14" height="3.01" fill="#69ff00"/>
<rect x="430.86" y="64.72" width="4.14" height="3.01" fill="#00ff0e"/>
<rect x="435.00" y="64.72" width="4.14" height="3.01" fill="#00bbff"/>
<rect x="439.14" y="64.72" width="4.14" height="3.01" fill="#0014ff"/>
<rect x="443.28" y="64.72" width="4.14" height="3.01" fill="#3300ff"/>
<rect x="451.56" y="64.72" width="70.38" height="3.01" fill="#3300ff"/>
<rect x="521.94" y="64.72" width="12.42" height="3.01" fill="#0014ff"/>
<rect x="534.36" y="64.72" width="4.14" height="3.01" fill="#3300ff"/>
<rect x="397.74" y="67.73" width="4.14" height="3.01" fill="#3300ff"/>
<rect x="401.88" y="67.73" width="4.14" height="3.01" fill="#0044ff"/>
<rect x="406.02" y="67.73" width="4.14" height="3.01" fill="#008bff"/>
<rect x="410.16" y="67.73" width="8.28" height="3.01" fill="#00fffc"/>
<rect x="418.44" y="67.73" width="4.14" height="3.01" fill="#00ffcc"/>
<rect x="422.58" y="67.73" width="4.14" height="3.01" fill="#00ff55"/>
<rect x="426.72" y="67.73" width="4.14" height="3.01" fill="#99ff00"/>
<rect x="430.86" y="67.73" width="4.14" height="3.01" fill="#00ff0e"/>
<rect x="435.00" y="67.73" width="4.14" height="3.01" fill="#008bff"/>
<rect x="439.14" y="67.73" width="4.14" height="3.01" fill="#0014ff"/>
<rect x="443.28" y="67.73" width="41.40" height="3.01" fill="#3300ff"/>
<rect x="501.24" y="67.73" width="24.84" height="3.01" fill="#3300ff"/>
<rect x="526.08" y="67.73" width="8.28" height="3.01" fill="#0014ff"/>
<rect x="534.36" y="67.73" width="4.14" height="3.01" fill="#3300ff"/>
<rect x="393.60" y="70.74" width="4.14" height="3.01" fill="#3300ff"/>
<rect x="397.74" y="70.74" width="4.14" height="3.01" fill="#0014ff"/>
<rect x="401.88" y="70.74" width="4.14" height="3.01" fill="#008bff"/>
<rect x="406.02" y="70.74" width="4.14" height="3.01" fill="#00bbff"/>
<rect x="410.16" y="70.74" width="4.14" height="3.01" fill="#00fffc"/>
<rect x="414.30" y="70.74" width="4.14" height="3.01" fill="#00ffcc"/>
<rect x="418.44" y="70.74" width="4.14" height="3.01" fill="#00ff85"/>
<rect x="422.58" y="70.74" width="4.14" height="3.01" fill="#00ff0e"/>
<rect x="426.72" y="70.74" width="4.14" height="3.01" fill="#99ff00"/>
<rect x="430.86" y="70.74" width="4.14" height="3.01" fill="#00ff55"/>
<rect x="435.00" y="70.74" width="4.14" height="3.01" fill="#008bff"/>
<rect x="439.14" y="70.74" width="45.54" height="3.01" fill="#3300ff"/>
<rect x="501.24" y="70.74" width="37.26" height="3.01" fill="#3300ff"/>
<rect x="389.46" y="73.75" width="4.14" height="3.01" fill="#3300ff"/>
<rect x="393.60" y="73.75" width="4.14" height="3.01" fill="#0014ff"/>
<rect x="397.74" y="73.75" width="4.14" height="3.01" fill="#008bff"/>
<rect x="401.88" y="73.75" width="4.14" height="3.01" fill="#00bbff"/>
<rect x="406.02" y="73.75" width="4.14" height="3.01" fill="#00fffc"/>
<rect x="410.16" y="73.75" width="4.14" height="3.01" fill="#00ffcc"/>
<rect x="414.30" y="73.75" width="4.14" height="3.01" fill="#00ff85"/>
<rect x="418.44" y="73.75" width="4.14" height="3.01" fill="#00ff55"/>
<rect x="422.58" y="73.75" width="4.14" height="3.01" fill="#00ff0e"/>
<rect x="426.72" y="73.75" width="4.14" height="3.01" fill="#69ff00"/>
<rect x="430.86" y="73.75" width="4.14" height="3.01" fill="#00ff85"/>
<rect x="435.00" y="73.75" width="4.14" height="3.01" fill="#0044ff"/>
<rect x="439.14" y="73.75" width="41.40" height="3.01" fill="#3300ff"/>
<rect x="501.24" y="73.75" width="37.26" height="3.01" fill="#3300ff"/>
<rect x="385.32" y="76.76" width="4.14" height="3.01" fill="#3300ff"/>
<rect x="389.46" y="76.76" width="4.14" height="3.01" fill="#0014ff"/>
<rect x="393.60" y="76.76" width="4.14" height="3.01" fill="#0044ff"/>
<rect x="397.74" y="76.76" width="4.14" height="3.01" fill="#00bbff"/>
<rect x="401.88" y="76.76" width="8.28" height="3.01" fill="#00fffc"/>
<rect x="410.16" y="76.76" width="4.14" height="3.01" fill="#00ff55"/>
<rect x="414.30" y="76.76" width="8.28" height="3.01" fill="#00ff0e"/>
<rect x="422.58" y="76.76" width="8.28" height="3.01" fill="#22ff00"/>
<rect x="430.86" y="76.76" width="4.14" height="3.01" fill="#00fffc"/>
<rect x="435.00" y="76.76" width="4.14" height="3.01" fill="#0044ff"/>
<rect x="439.14" y="76.76" width="12.42" height="3.01" fill="#3300ff"/>
<rect x="455.70" y="76.76" width="20.70" height="3.01" fill="#3300ff"/>
<rect x="501.24" y="76.76" width="33.12" height="3.01" fill="#3300ff"/>
<rect x="534.36" y="76.76" width="4.14" height="3.01" fill="#0044ff"/>
<rect x="381.18" y="79.77" width="4.14" height="3.01" fill="#3300ff"/>
<rect x="385.32" y="79.77" width="4.14" height="3.01" fill="#0014ff"/>
<rect x="389.46" y="79.77" width="4.14" height="3.01" fill="#008bff"/>
<rect x="393.60" y="79.77" width="4.14" height="3.01" fill="#00bbff"/>
<rect x="397.74" y="79.77" width="4.14" height="3.01" fill="#00fffc"/>
<rect x="401.88" y="79.77" width="4.14" height="3.01" fill="#00ff85"/>
<rect x="406.02" y="79.77" width="4.14" height="3.01" fill="#00ff55"/>
<rect x="410.16" y="79.77" width="12.42" height="3.01" fill="#00ff0e"/>
<rect x="422.58" y="79.77" width="4.14" height="3.01" fill="#22ff00"/>
<rect x="426.72" y="79.77" width="4.14" height="3.01" fill="#00ff0e"/>
<rect x="430.86" y="79.77" width="4.14" height="3.01" fill="#00bbff"/>
<rect x="435.00" y="79.77" width="4.14" height="3.01" fill="#0014ff"/>
<rect x="439.14" y="79.77" width="12.42" height="3.01" fill="#3300ff"/>
<rect x="459.84" y="79.77" width="12.42" height="3.01" fill="#3300ff"/>
<rect x="505.38" y="79.77" width="33.12" height="3.01" fill="#3300ff"/>
<rect x="381.18" y="82.78" width="4.14" height="3.01" fill="#3300ff"/>
<rect x="385.32" y="82.78" width="4.14" height="3.01" fill="#0044ff"/>
<rect x="389.46" y="82.78" width="4.14" height="3.01" fill="#00bbff"/>
<rect x="393.60" y="82.78" width="4.14" height="3.01" fill="#00fffc"/>
<rect x="397.74" y="82.78" width="4.14" height="3.01" fill="#00ff85"/>
<rect x="401.88" y="82.78" width="4.14" height="3.01" fill="#00ff55"/>
<rect x="406.02" y="82.78" width="8.28" height="3.01" fill="#00ff0e"/>
<rect x="414.30" y="82.78" width="4.14" height="3.01" fill="#22ff00"/>
<rect x="418.44" y="82.78" width="8.28" height="3.01" fill="#00ff0e"/>
<rect x="426.72" y="82.78" width="4.14" height="3.01" fill="#00ff85"/>
<rect x="430.86" y="82.78" width="8.28" height="3.01" fill="#008bff"/>
<rect x="439.14" y="82.78" width="4.14" height="3.01" fill="#0014ff"/>
<rect x="443.28" y="82.78" width="16.56" height="3.01" fill="#3300ff"/>
<rect x="509.52" y="82.78" width="28.98" height="3.01" fill="#3300ff"/>
<rect x="381.18" y="85.79" width="4.14" height="3.01" fill="#3300ff"/>
<rect x="385.32" y="85.79" width="4.14" height="3.01" fill="#00bbff"/>
<rect x="389.46" y="85.79" width="4.14" height="3.01" fill="#00fffc"/>
<rect x="393.60" y="85.79" width="4.14" height="3.01" fill="#00ff85"/>
<rect x="397.74" y="85.79" width="4.14" height="3.01" fill="#00ff55"/>
<rect x="401.88" y="85.79" width="4.14" height="3.01" fill="#00ff0e"/>
<rect x="406.02" y="85.79" width="4.14" height="3.01" fill="#00ff55"/>
<rect x="410.16" y="85.79" width="4.14" height="3.01" fill="#00ff0e"/>
<rect x="414.30" y="85.79" width="8.28" height="3.01" fill="#22ff00"/>
<rect x="422.58" y="85.79" width="4.14" height="3.01" fill="#00ff55"/>
<rect x="426.72" y="85.79" width="8.28" height="3.01" fill="#00fffc"/>
<rect x="435.00" y="85.79" width="4.14" height="3.01" fill="#0044ff"/>
<rect x="439.14" y="85.79" width="4.14" height="3.01" fill="#0014ff"/>
<rect x="443.28" y="85.79" width="16.56" height="3.01" fill="#3300ff"/>
<rect x="517.80" y="85.79" width="20.70" height="3.01" fill="#3300ff"/>
<rect x="377.04" y="88.80" width="4.14" height="3.01" fill="#3300ff"/>
<rect x="381.18" y="88.80" width="4.14" height="3.01" fill="#0014ff"/>
<rect x="385.32" y="88.80" width="4.14" height="3.01" fill="#00bbff"/>
<rect x="389.46" y="88.80" width="4.14" height="3.01" fill="#00fffc"/>
<rect x="393.60" y="88.80" width="4.14" height="3.01" fill="#00ff55"/>
<rect x="397.74" y="88.80" width="4.14" height="3.01" fill="#00ff0e"/>
<rect x="401.88" y="88.80" width="4.14" height="3.01" fill="#22ff00"/>
<rect x="406.02" y="88.80" width="4.14" height="3.01" fill="#00ff0e"/>
<rect x="410.16" y="88.80" width="4.14" height="3.01" fill="#00ff55"/>
<rect x="414.30" y="88.80" width="4.14" height="3.01" fill="#00ff85"/>
<rect x="418.44" y="88.80" width="4.14" height="3.01" fill="#00ff0e"/>
<rect x="422.58" y="88.80" width="4.14" height="3.01" fill="#00ff85"/>
<rect x="426.72" y="88.80" width="8.28" height="3.01" fill="#00fffc"/>
<rect x="435.00" y="88.80" width="4.14" height="3.01" fill="#0044ff"/>
<rect x="439.14" y="88.80" width="4.14" height="3.01" fill="#0014ff"/>
<rect x="443.28" y="88.80" width="16.56" height="3.01" fill="#3300ff"/>
<rect x="526.08" y="88.80" width="12.42" height="3.01" fill="#3300ff"/>
<rect x="377.04" y="91.81" width="4.14" height="3.01" fill="#0014ff"/>
<rect x="381.18" y="91.81" width="4.14" height="3.01" fill="#0044ff"/>
<rect x="385.32" y="91.81" width="4.14" height="3.01" fill="#00fffc"/>
<rect x="389.46" y="91.81" width="4.14" height="3.01" fill="#00ff85"/>
<rect x="393.60" y="91.81" width="8.28" height="3.01" fill="#00ff0e"/>
<rect x="401.88" y="91.81" width="4.14" height="3.01" fill="#22ff00"/>
<rect x="406.02" y="91.81" width="4.14" height="3.01" fill="#00ff55"/>
<rect x="410.16" y="91.81" width="4.14" height="3.01" fill="#00ff85"/>
<rect x="414.30" y="91.81" width="12.42" height="3.01" fill="#00fffc"/>
<rect x="426.72" y="91.81" width="4.14" height="3.01" fill="#00bbff"/>
<rect x="430.86" y="91.81" width="4.14" height="3.01" fill="#008bff"/>
<rect x="435.00" y="91.81" width="4.14" height="3.01" fill="#0014ff"/>
<rect x="439.14" y="91.81" width="24.84" height="3.01" fill="#3300ff"/>
<rect x="530.22" y="91.81" width="8.28" height="3.01" fill="#3300ff"/>
<rect x="372.90" y="94.82" width="4.14" height="3.01" fill="#3300ff"/>
<rect x="377.04" y="94.82" width="4.14" height="3.01" fill="#0044ff"/>
<rect x="381.18" y="94.82" width="4.14" height="3.01" fill="#00bbff"/>
<rect x="385.32" y="94.82" width="4.14" height="3.01" fill="#00ff85"/>
<rect x="389.46" y="94.82" width="4.14" height="3.01" fill="#00ff0e"/>
<rect x="393.60" y="94.82" width="4.14" height="3.01" fill="#22ff00"/>
<rect x="397.74" y="94.82" width="8.28" height="3.01" fill="#00ff0e"/>
<rect x="406.02" y="94.82" width="4.14" height="3.01" fill="#00ff55"/>
<rect x="410.16" y="94.82" width="4.14" height="3.01" fill="#00ff85"/>
<rect x="414.30" y="94.82" width="8.28" height="3.01" fill="#00fffc"/>
<rect x="422.58" y="94.82" width="4.14" height="3.01" fill="#00bbff"/>
<rect x="426.72" y="94.82" width="4.14" height="3.01" fill="#008bff"/>
<rect x="430.86" y="94.82" width="4.14" height="3.01" fill="#0044ff"/>
<rect x="435.00" y="94.82" width="4.14" height="3.01" fill="#0014ff"/>
<rect x="439.14" y="94.82" width="24.84" height="3.01" fill="#3300ff"/>
<rect x="368.76" y="97.83" width="4.14" height="3.01" fill="#3300ff"/>
<rect x="372.90" y="97.83" width="4.14" height="3.01" fill="#0014ff"/>
<rect x="377.04" y="97.83" width="4.14" height="3.01" fill="#008bff"/>
<rect x="381.18" y="97.83" width="4.14" height="3.01" fill="#00fffc"/>
<rect x="385.32" y="97.83" width="4.14" height="3.01" fill="#00ff0e"/>
<rect x="389.46" y="97.83" width="4.14" height="3.01" fill="#22ff00"/>
<rect x="393.60" y="97.83" width="8.28" height="3.01" fill="#00ff0e"/>
<rect x="401.88" y="97.83" width="4.14" height="3.01" fill="#00ff55"/>
<rect x="406.02" y="97.83" width="4.14" height="3.01" fill="#00ff85"/>
<rect x="410.16" y="97.83" width="8.28" height="3.01" fill="#00fffc"/>
<rect x="418.44" y="97.83" width="4.14" height="3.01" fill="#00bbff"/>
<rect x="422.58" y="97.83" width="4.14" height="3.01" fill="#008bff"/>
<rect x="426.72" y="97.83" width="4.14" height="3.01" fill="#0044ff"/>
<rect x="430.86" y="97.83" width="4.14" height="3.01" fill="#0014ff"/>
<rect x="435.00" y="97.83" width="20.70" height="3.01" fill="#3300ff"/>
<rect x="368.76" y="100.84" width="4.14" height="3.01" fill="#3300ff"/>
<rect x="372.90" y="100.84" width="4.14" height="3.01" fill="#0044ff"/>
<rect x="377.04" y="100.84" width="4.14" height="3.01" fill="#00fffc"/>
<rect x="381.18" y="100.84" width="4.14" height="3.01" fill="#00ff55"/>
<rect x="385.32" y="100.84" width="8.28" height="3.01" fill="#22ff00"/>
<rect x="393.60" y="100.84" width="8.28" height="3.01" fill="#00ff0e"/>
<rect x="401.88" y="100.84" width="4.14" height="3.01" fill="#00ff55"/>
<rect x="406.02" y="100.84" width="4.14" height="3.01" fill="#00ff85"/>
<rect x="410.16" y="100.84" width="8.28" height="3.01" fill="#00fffc"/>
<rect x="418.44" y="100.84" width="4.14" height="3.01" fill="#008bff"/>
<rect x="422.58" y="100.84" width="4.14" height="3.01" fill="#0044ff"/>
<rect x="426.72" y="100.84" width="4.14" height="3.01" fill="#0014ff"/>
<rect x="430.86" y="100.84" width="24.84" height="3.01" fill="#3300ff"/>
<rect x="368.76" y="103.85" width="4.14" height="3.01" fill="#0014ff"/>
<rect x="372.90" y="103.85" width="4.14" height="3.01" fill="#008bff"/>
<rect x="377.04" y="103.85" width="4.14" height="3.01" fill="#00ff85"/>
<rect x="381.18" y="103.85" width="4.14" height="3.01" fill="#00ff0e"/>
<rect x="385.32" y="103.85" width="4.14" height="3.01" fill="#22ff00"/>
<rect x="389.46" y="103.85" width="4.14" height="3.01" fill="#69ff00"/>
<rect x="393.60" y="103.85" width="8.28" height="3.01" fill="#00ff0e"/>
<rect x="401.88" y="103.85" width="4.14" height="3.01" fill="#00ff55"/>
<rect x="406.02" y="103.85" width="8.28" height="3.01" fill="#00fffc"/>
<rect x="414.30" y="103.85" width="4.14" height="3.01" fill="#00bbff"/>
<rect x="418.44" y="103.85" width="4.14" height="3.01" fill="#0044ff"/>
<rect x="422.58" y="103.85" width="4.14" height="3.01" fill="#0014ff"/>
<rect x="426.72" y="103.85" width="20.70" height="3.01" fill="#3300ff"/>
<rect x="368.76" y="106.86" width="4.14" height="3.01" fill="#0014ff"/>
<rect x="372.90" y="106.86" width="4.14" height="3.01" fill="#00bbff"/>
<rect x="377.04" y="106.86" width="4.14" height="3.01" fill="#00ff55"/>
<rect x="381.18" y="106.86" width="4.14" height="3.01" fill="#22ff00"/>
<rect x="385.32" y="106.86" width="4.14" height="3.01" fill="#69ff00"/>
<rect x="389.46" y="106.86" width="4.14" height="3.01" fill="#99ff00"/>
<rect x="393.60" y="106.86" width="4.14" height="3.01" fill="#00ff0e"/>
<rect x="397.74" y="106.86" width="4.14" height="3.01" fill="#00ff55"/>
<rect x="401.88" y="106.86" width="4.14" height="3.01" fill="#00ff85"/>
<rect x="406.02" y="106.86" width="8.28" height="3.01" fill="#00bbff"/>
<rect x="414.30" y="106.86" width="4.14" height="3.01" fill="#008bff"/>
<rect x="418.44" y="106.86" width="4.14" height="3.01" fill="#0014ff"/>
<rect x="422.58" y="106.86" width="20.70" height="3.01" fill="#3300ff"/>
<rect x="364.62" y="109.87" width="4.14" height="3.01" fill="#3300ff"/>
<rect x="368.76" y="109.87" width="4.14" height="3.01" fill="#00bbff"/>
<rect x="372.90" y="109.87" width="4.14" height="3.01" fill="#00fffc"/>
<rect x="377.04" y="109.87" width="8.28" height="3.01" fill="#22ff00"/>
<rect x="385.32" y="109.87" width="4.14" height="3.01" fill="#e0ff00"/>
<rect x="389.46" y="109.87" width="4.14" height="3.01" fill="#00ff0e"/>
<rect x="393.60" y="109.87" width="4.14" height="3.01" fill="#00ff55"/>
<rect x="397.74" y="109.87" width="8.28" height="3.01" fill="#00fffc"/>
<rect x="406.02" y="109.87" width="4.14" height="3.01" fill="#00bbff"/>
<rect x="410.16" y="109.87" width="4.14" height="3.01" fill="#0044ff"/>
<rect x="414.30" y="109.87" width="4.14" height="3.01" fill="#0014ff"/>
<rect x="418.44" y="109.87" width="20.70" height="3.01" fill="#3300ff"/>
<rect x="364.62" y="112.88" width="4.14" height="3.01" fill="#0014ff"/>
<rect x="368.76" y="112.88" width="4.14" height="3.01" fill="#00bbff"/>
<rect x="372.90" y="112.88" width="4.14" height="3.01" fill="#00ff55"/>
<rect x="377.04" y="112.88" width="12.42" height="3.01" fill="#22ff00"/>
<rect x="389.46" y="112.88" width="4.14" height="3.01" fill="#00ff0e"/>
<rect x="393.60" y="112.88" width="4.14" height="3.01" fill="#00ff85"/>
<rect x="397.74" y="112.88" width="8.28" height="3.01" fill="#00fffc"/>
<rect x="406.02" y="112.88" width="4.14" height="3.01" fill="#00bbff"/>
<rect x="410.16" y="112.88" width="4.14" height="3.01" fill="#008bff"/>
<rect x="414.30" y="112.88" width="4.14" height="3.01" fill="#0044ff"/>
<rect x="418.44" y="112.88" width="16.56" height="3.01" fill="#3300ff"/>
<rect x="364.62" y="115.89" width="4.14" height="3.01" fill="#008bff"/>
<rect x="368.76" y="115.89" width="4.14" height="3.01" fill="#00fffc"/>
<rect x="372.90" y="115.89" width="8.28" height="3.01" fill="#22ff00"/>
<rect x="381.18" y="115.89" width="4.14" height="3.01" fill="#00ff0e"/>
<rect x="385.32" y="115.89" width="4.14" height="3.01" fill="#00ff55"/>
<rect x="389.46" y="115.89" width="4.14" height="3.01" fill="#00ff85"/>
<rect x="393.60" y="115.89" width="8.28" height="3.01" fill="#00fffc"/>
<rect x="401.88" y="115.89" width="4.14" height="3.01" fill="#00bbff"/>
<rect x="406.02" y="115.89" width="4.14" height="3.01" fill="#0044ff"/>
<rect x="410.16" y="115.89" width="8.28" height="3.01" fill="#0014ff"/>
<rect x="418.44" y="115.89" width="8.28" height="3.01" fill="#3300ff"/>
<rect x="360.48" y="118.90" width="4.14" height="3.01" fill="#3300ff"/>
<rect x="364.62" y="118.90" width="4.14" height="3.01" fill="#00bbff"/>
<rect x="368.76" y="118.90" width="4.14" height="3.01" fill="#22ff00"/>
<rect x="372.90" y="118.90" width="4.14" height="3.01" fill="#69ff00"/>
<rect x="377.04" y="118.90" width="4.14" height="3.01" fill="#22ff00"/>
<rect x="381.18" y="118.90" width="4.14" height="3.01" fill="#00ff0e"/>
<rect x="385.32" y="118.90" width="4.14" height="3.01" fill="#00ff85"/>
<rect x="389.46" y="118.90" width="8.28" height="3.01" fill="#00fffc"/>
<rect x="397.74" y="118.90" width="4.14" height="3.01" fill="#00bbff"/>
<rect x="401.88" y="118.90" width="4.14" height="3.01" fill="#0044ff"/>
<rect x="406.02" y="118.90" width="4.14" height="3.01" fill="#0014ff"/>
<rect x="410.16" y="118.90" width="8.28" height="3.01" fill="#3300ff"/>
<rect x="360.48" y="121.91" width="4.14" height="3.01" fill="#3300ff"/>
<rect x="364.62" y="121.91" width="4.14" height="3.01" fill="#00ffcc"/>
<rect x="368.76" y="121.91" width="4.14" height="3.01" fill="#e0ff00"/>
<rect x="372.90" y="121.91" width="4.14" height="3.01" fill="#99ff00"/>
<rect x="377.04" y="121.91" width="4.14" height="3.01" fill="#00ff0e"/>
<rect x="381.18" y="121.91" width="4.14" height="3.01" fill="#00ff85"/>
<rect x="385.32" y="121.91" width="8.28" height="3.01" fill="#00fffc"/>
<rect x="393.60" y="121.91" width="4.14" height="3.01" fill="#00bbff"/>
<rect x="397.74" y="121.91" width="4.14" height="3.01" fill="#0044ff"/>
<rect x="401.88" y="121.91" width="4.14" height="3.01" fill="#0014ff"/>
<rect x="406.02" y="121.91" width="4.14" height="3.01" fill="#3300ff"/>
<rect x="360.48" y="124.92" width="4.14" height="3.01" fill="#3300ff"/>
<rect x="364.62" y="124.92" width="4.14" height="3.01" fill="#00ff55"/>
<rect x="368.76" y="124.92" width="4.14" height="3.01" fill="#ff3000"/>
<rect x="372.90" y="124.92" width="4.14" height="3.01" fill="#e0ff00"/>
<rect x="377.04" y="124.92" width="4.14" height="3.01" fill="#00ff0e"/>
<rect x="381.18" y="124.92" width="4.14" height="3.01" fill="#00ffcc"/>
<rect x="385.32" y="124.92" width="8.28" height="3.01" fill="#00fffc"/>
<rect x="393.60" y="124.92" width="4.14" height="3.01" fill="#008bff"/>
<rect x="397.74" y="124.92" width="4.14" height="3.01" fill="#0014ff"/>
<rect x="401.88" y="124.92" width="4.14" height="3.01" fill="#3300ff"/>
<rect x="364.62" y="127.93" width="4.14" height="3.01" fill="#00ff0e"/>
<rect x="368.76" y="127.93" width="4.14" height="3.01" fill="#ff0000"/>
<rect x="372.90" y="127.93" width="4.14" height="3.01" fill="#99ff00"/>
<rect x="377.04" y="127.93" width="4.14" height="3.01" fill="#00ff55"/>
<rect x="381.18" y="127.93" width="8.28" height="3.01" fill="#00fffc"/>
<rect x="389.46" y="127.93" width="4.14" height="3.01" fill="#008bff"/>
<rect x="393.60" y="127.93" width="4.14" height="3.01" fill="#0014ff"/>
<rect x="397.74" y="127.93" width="4.14" height="3.01" fill="#3300ff"/>
<rect x="364.62" y="130.94" width="4.14" height="3.01" fill="#00ff0e"/>
<rect x="368.76" y="130.94" width="4.14" height="3.01" fill="#ff0000"/>
<rect x="372.90" y="130.94" width="4.14" height="3.01" fill="#22ff00"/>
<rect x="377.04" y="130.94" width="4.14" height="3.01" fill="#00ff85"/>
<rect x="381.18" y="130.94" width="8.28" height="3.01" fill="#00bbff"/>
<rect x="389.46" y="130.94" width="4.14" height="3.01" fill="#0044ff"/>
<rect x="393.60" y="130.94" width="4.14" height="3.01" fill="#3300ff"/>
<rect x="364.62" y="133.95" width="4.14" height="3.01" fill="#00ff85"/>
<rect x="368.76" y="133.95" width="4.14" height="3.01" fill="#ffee00"/>
<rect x="372.90" y="133.95" width="4.14" height="3.01" fill="#00ff0e"/>
<rect x="377.04" y="133.95" width="4.14" height="3.01" fill="#00ffcc"/>
<rect x="381.18" y="133.95" width="4.14" height="3.01" fill="#008bff"/>
<rect x="385.32" y="133.95" width="4.14" height="3.01" fill="#0014ff"/>
<rect x="389.46" y="133.95" width="4.14" height="3.01" fill="#3300ff"/>
<rect x="364.62" y="136.96" width="4.14" height="3.01" fill="#00bbff"/>
<rect x="368.76" y="136.96" width="4.14" height="3.01" fill="#00ff55"/>
<rect x="372.90" y="136.96" width="4.14" height="3.01" fill="#00ff85"/>
<rect x="377.04" y="136.96" width="4.14" height="3.01" fill="#00bbff"/>
<rect x="381.18" y="136.96" width="4.14" height="3.01" fill="#0044ff"/>
<rect x="385.32" y="136.96" width="4.14" height="3.01" fill="#3300ff"/>
<rect x="364.62" y="139.97" width="4.14" height="3.01" fill="#0014ff"/>
<rect x="368.76" y="139.97" width="8.28" height="3.01" fill="#00fffc"/>
<rect x="377.04" y="139.97" width="4.14" height="3.01" fill="#0044ff"/>
<rect x="381.18" y="139.97" width="4.14" height="3.01" fill="#3300ff"/>
<rect x="364.62" y="142.98" width="4.14" height="3.01" fill="#3300ff"/>
<rect x="368.76" y="142.98" width="8.28" height="3.01" fill="#0014ff"/>
<rect x="377.04" y="142.98" width="4.14" height="3.01" fill="#3300ff"/>
<rect x="546.80" y="69.30" width="4.10" height="1.50" fill="#0014ff"/>
<rect x="534.40" y="76.70" width="4.10" height="1.60" fill="#0044ff"/>
<rect x="538.50" y="91.60" width="3.60" height="2.40" fill="#0014ff"/>
<rect x="538.50" y="84.10" width="4.10" height="1.60" fill="#99ff00"/>
<rect x="538.50" y="85.70" width="4.10" height="1.60" fill="#ff3000"/>
<rect x="555.10" y="52.70" width="4.20" height="1.20" fill="#ffffff"/>
<rect x="555.10" y="55.70" width="4.20" height="4.90" fill="#ffffff"/>
<rect x="550.90" y="60.20" width="8.40" height="8.40" fill="#ffffff"/>
<rect x="546.80" y="68.20" width="12.50" height="1.50" fill="#ffffff"/>
<rect x="550.90" y="69.30" width="8.40" height="1.90" fill="#ffffff"/>
<rect x="546.80" y="70.80" width="12.50" height="6.30" fill="#ffffff"/>
<rect x="542.60" y="76.70" width="16.70" height="8.70" fill="#ffffff"/>
<rect x="542.10" y="85.00" width="17.20" height="16.10" fill="#ffffff"/>
<rect x="546.30" y="100.70" width="13.00" height="7.70" fill="#ffffff"/>
<rect x="551.00" y="108.00" width="8.30" height="1.40" fill="#ffffff"/>
<rect x="547.00" y="109.00" width="12.30" height="1.80" fill="#ffffff"/>
<rect x="551.10" y="110.40" width="8.20" height="8.80" fill="#ffffff"/>
<rect x="554.80" y="118.80" width="4.50" height="2.40" fill="#ffffff"/>
<rect x="554.80" y="122.40" width="4.50" height="1.20" fill="#ffffff"/>
<rect x="554.80" y="124.80" width="4.50" height="1.20" fill="#ffffff"/>
<rect x="554.80" y="127.20" width="4.50" height="1.20" fill="#ffffff"/>
<rect x="554.80" y="130.30" width="4.50" height="1.20" fill="#ffffff"/>
<polygon points="358.5,145.7 358.5,79.4 407.1,31.3 522,31.3 406,145.7" fill="none" stroke="#ff0000" stroke-width="1.5"/>
<rect x="352.2" y="28.6" width="207.10" height="120.40" fill="none" stroke="#b4b4b4" stroke-width="0.8" style="shape-rendering:auto"/>
<line x1="352.2" y1="149.00" x2="358.00" y2="149.00" stroke="#000" stroke-width="0.6" stroke-opacity="0.6"/>
<line x1="352.2" y1="145.99" x2="355.20" y2="145.99" stroke="#000" stroke-width="0.6" stroke-opacity="0.6"/>
<line x1="352.2" y1="142.98" x2="355.20" y2="142.98" stroke="#000" stroke-width="0.6" stroke-opacity="0.6"/>
<line x1="352.2" y1="139.97" x2="355.20" y2="139.97" stroke="#000" stroke-width="0.6" stroke-opacity="0.6"/>
<line x1="352.2" y1="136.96" x2="355.20" y2="136.96" stroke="#000" stroke-width="0.6" stroke-opacity="0.6"/>
<line x1="352.2" y1="133.95" x2="358.00" y2="133.95" stroke="#000" stroke-width="0.6" stroke-opacity="0.6"/>
<line x1="352.2" y1="130.94" x2="355.20" y2="130.94" stroke="#000" stroke-width="0.6" stroke-opacity="0.6"/>
<line x1="352.2" y1="127.93" x2="355.20" y2="127.93" stroke="#000" stroke-width="0.6" stroke-opacity="0.6"/>
<line x1="352.2" y1="124.92" x2="355.20" y2="124.92" stroke="#000" stroke-width="0.6" stroke-opacity="0.6"/>
<line x1="352.2" y1="121.91" x2="355.20" y2="121.91" stroke="#000" stroke-width="0.6" stroke-opacity="0.6"/>
<line x1="352.2" y1="118.90" x2="358.00" y2="118.90" stroke="#000" stroke-width="0.6" stroke-opacity="0.6"/>
<line x1="352.2" y1="115.89" x2="355.20" y2="115.89" stroke="#000" stroke-width="0.6" stroke-opacity="0.6"/>
<line x1="352.2" y1="112.88" x2="355.20" y2="112.88" stroke="#000" stroke-width="0.6" stroke-opacity="0.6"/>
<line x1="352.2" y1="109.87" x2="355.20" y2="109.87" stroke="#000" stroke-width="0.6" stroke-opacity="0.6"/>
<line x1="352.2" y1="106.86" x2="355.20" y2="106.86" stroke="#000" stroke-width="0.6" stroke-opacity="0.6"/>
<line x1="352.2" y1="103.85" x2="358.00" y2="103.85" stroke="#000" stroke-width="0.6" stroke-opacity="0.6"/>
<line x1="352.2" y1="100.84" x2="355.20" y2="100.84" stroke="#000" stroke-width="0.6" stroke-opacity="0.6"/>
<line x1="352.2" y1="97.83" x2="355.20" y2="97.83" stroke="#000" stroke-width="0.6" stroke-opacity="0.6"/>
<line x1="352.2" y1="94.82" x2="355.20" y2="94.82" stroke="#000" stroke-width="0.6" stroke-opacity="0.6"/>
<line x1="352.2" y1="91.81" x2="355.20" y2="91.81" stroke="#000" stroke-width="0.6" stroke-opacity="0.6"/>
<line x1="352.2" y1="88.80" x2="358.00" y2="88.80" stroke="#000" stroke-width="0.6" stroke-opacity="0.6"/>
<line x1="352.2" y1="85.79" x2="355.20" y2="85.79" stroke="#000" stroke-width="0.6" stroke-opacity="0.6"/>
<line x1="352.2" y1="82.78" x2="355.20" y2="82.78" stroke="#000" stroke-width="0.6" stroke-opacity="0.6"/>
<line x1="352.2" y1="79.77" x2="355.20" y2="79.77" stroke="#000" stroke-width="0.6" stroke-opacity="0.6"/>
<line x1="352.2" y1="76.76" x2="355.20" y2="76.76" stroke="#000" stroke-width="0.6" stroke-opacity="0.6"/>
<line x1="352.2" y1="73.75" x2="358.00" y2="73.75" stroke="#000" stroke-width="0.6" stroke-opacity="0.6"/>
<line x1="352.2" y1="70.74" x2="355.20" y2="70.74" stroke="#000" stroke-width="0.6" stroke-opacity="0.6"/>
<line x1="352.2" y1="67.73" x2="355.20" y2="67.73" stroke="#000" stroke-width="0.6" stroke-opacity="0.6"/>
<line x1="352.2" y1="64.72" x2="355.20" y2="64.72" stroke="#000" stroke-width="0.6" stroke-opacity="0.6"/>
<line x1="352.2" y1="61.71" x2="355.20" y2="61.71" stroke="#000" stroke-width="0.6" stroke-opacity="0.6"/>
<line x1="352.2" y1="58.70" x2="358.00" y2="58.70" stroke="#000" stroke-width="0.6" stroke-opacity="0.6"/>
<line x1="352.2" y1="55.69" x2="355.20" y2="55.69" stroke="#000" stroke-width="0.6" stroke-opacity="0.6"/>
<line x1="352.2" y1="52.68" x2="355.20" y2="52.68" stroke="#000" stroke-width="0.6" stroke-opacity="0.6"/>
<line x1="352.2" y1="49.67" x2="355.20" y2="49.67" stroke="#000" stroke-width="0.6" stroke-opacity="0.6"/>
<line x1="352.2" y1="46.66" x2="355.20" y2="46.66" stroke="#000" stroke-width="0.6" stroke-opacity="0.6"/>
<line x1="352.2" y1="43.65" x2="358.00" y2="43.65" stroke="#000" stroke-width="0.6" stroke-opacity="0.6"/>
<line x1="352.2" y1="40.64" x2="355.20" y2="40.64" stroke="#000" stroke-width="0.6" stroke-opacity="0.6"/>
<line x1="352.2" y1="37.63" x2="355.20" y2="37.63" stroke="#000" stroke-width="0.6" stroke-opacity="0.6"/>
<line x1="352.2" y1="34.62" x2="355.20" y2="34.62" stroke="#000" stroke-width="0.6" stroke-opacity="0.6"/>
<line x1="352.2" y1="31.61" x2="355.20" y2="31.61" stroke="#000" stroke-width="0.6" stroke-opacity="0.6"/>
<line x1="352.2" y1="28.60" x2="358.00" y2="28.60" stroke="#000" stroke-width="0.6" stroke-opacity="0.6"/>
<line x1="354.30" y1="149.0" x2="354.30" y2="145.70" stroke="#000" stroke-width="0.6" stroke-opacity="0.6"/>
<line x1="358.44" y1="149.0" x2="358.44" y2="147.40" stroke="#000" stroke-width="0.6" stroke-opacity="0.6"/>
<line x1="362.58" y1="149.0" x2="362.58" y2="147.40" stroke="#000" stroke-width="0.6" stroke-opacity="0.6"/>
<line x1="366.72" y1="149.0" x2="366.72" y2="147.40" stroke="#000" stroke-width="0.6" stroke-opacity="0.6"/>
<line x1="370.86" y1="149.0" x2="370.86" y2="147.40" stroke="#000" stroke-width="0.6" stroke-opacity="0.6"/>
<line x1="375.00" y1="149.0" x2="375.00" y2="145.70" stroke="#000" stroke-width="0.6" stroke-opacity="0.6"/>
<line x1="379.14" y1="149.0" x2="379.14" y2="147.40" stroke="#000" stroke-width="0.6" stroke-opacity="0.6"/>
<line x1="383.28" y1="149.0" x2="383.28" y2="147.40" stroke="#000" stroke-width="0.6" stroke-opacity="0.6"/>
<line x1="387.42" y1="149.0" x2="387.42" y2="147.40" stroke="#000" stroke-width="0.6" stroke-opacity="0.6"/>
<line x1="391.56" y1="149.0" x2="391.56" y2="147.40" stroke="#000" stroke-width="0.6" stroke-opacity="0.6"/>
<line x1="395.70" y1="149.0" x2="395.70" y2="145.70" stroke="#000" stroke-width="0.6" stroke-opacity="0.6"/>
<line x1="399.84" y1="149.0" x2="399.84" y2="147.40" stroke="#000" stroke-width="0.6" stroke-opacity="0.6"/>
<line x1="403.98" y1="149.0" x2="403.98" y2="147.40" stroke="#000" stroke-width="0.6" stroke-opacity="0.6"/>
<line x1="408.12" y1="149.0" x2="408.12" y2="147.40" stroke="#000" stroke-width="0.6" stroke-opacity="0.6"/>
<line x1="412.26" y1="149.0" x2="412.26" y2="147.40" stroke="#000" stroke-width="0.6" stroke-opacity="0.6"/>
<line x1="416.40" y1="149.0" x2="416.40" y2="145.70" stroke="#000" stroke-width="0.6" stroke-opacity="0.6"/>
<line x1="420.54" y1="149.0" x2="420.54" y2="147.40" stroke="#000" stroke-width="0.6" stroke-opacity="0.6"/>
<line x1="424.68" y1="149.0" x2="424.68" y2="147.40" stroke="#000" stroke-width="0.6" stroke-opacity="0.6"/>
<line x1="428.82" y1="149.0" x2="428.82" y2="147.40" stroke="#000" stroke-width="0.6" stroke-opacity="0.6"/>
<line x1="432.96" y1="149.0" x2="432.96" y2="147.40" stroke="#000" stroke-width="0.6" stroke-opacity="0.6"/>
<line x1="437.10" y1="149.0" x2="437.10" y2="145.70" stroke="#000" stroke-width="0.6" stroke-opacity="0.6"/>
<line x1="441.24" y1="149.0" x2="441.24" y2="147.40" stroke="#000" stroke-width="0.6" stroke-opacity="0.6"/>
<line x1="445.38" y1="149.0" x2="445.38" y2="147.40" stroke="#000" stroke-width="0.6" stroke-opacity="0.6"/>
<line x1="449.52" y1="149.0" x2="449.52" y2="147.40" stroke="#000" stroke-width="0.6" stroke-opacity="0.6"/>
<line x1="453.66" y1="149.0" x2="453.66" y2="147.40" stroke="#000" stroke-width="0.6" stroke-opacity="0.6"/>
<line x1="457.80" y1="149.0" x2="457.80" y2="145.70" stroke="#000" stroke-width="0.6" stroke-opacity="0.6"/>
<line x1="461.94" y1="149.0" x2="461.94" y2="147.40" stroke="#000" stroke-width="0.6" stroke-opacity="0.6"/>
<line x1="466.08" y1="149.0" x2="466.08" y2="147.40" stroke="#000" stroke-width="0.6" stroke-opacity="0.6"/>
<line x1="470.22" y1="149.0" x2="470.22" y2="147.40" stroke="#000" stroke-width="0.6" stroke-opacity="0.6"/>
<line x1="474.36" y1="149.0" x2="474.36" y2="147.40" stroke="#000" stroke-width="0.6" stroke-opacity="0.6"/>
<line x1="478.50" y1="149.0" x2="478.50" y2="145.70" stroke="#000" stroke-width="0.6" stroke-opacity="0.6"/>
<line x1="482.64" y1="149.0" x2="482.64" y2="147.40" stroke="#000" stroke-width="0.6" stroke-opacity="0.6"/>
<line x1="486.78" y1="149.0" x2="486.78" y2="147.40" stroke="#000" stroke-width="0.6" stroke-opacity="0.6"/>
<line x1="490.92" y1="149.0" x2="490.92" y2="147.40" stroke="#000" stroke-width="0.6" stroke-opacity="0.6"/>
<line x1="495.06" y1="149.0" x2="495.06" y2="147.40" stroke="#000" stroke-width="0.6" stroke-opacity="0.6"/>
<line x1="499.20" y1="149.0" x2="499.20" y2="145.70" stroke="#000" stroke-width="0.6" stroke-opacity="0.6"/>
<line x1="503.34" y1="149.0" x2="503.34" y2="147.40" stroke="#000" stroke-width="0.6" stroke-opacity="0.6"/>
<line x1="507.48" y1="149.0" x2="507.48" y2="147.40" stroke="#000" stroke-width="0.6" stroke-opacity="0.6"/>
<line x1="511.62" y1="149.0" x2="511.62" y2="147.40" stroke="#000" stroke-width="0.6" stroke-opacity="0.6"/>
<line x1="515.76" y1="149.0" x2="515.76" y2="147.40" stroke="#000" stroke-width="0.6" stroke-opacity="0.6"/>
<line x1="519.90" y1="149.0" x2="519.90" y2="145.70" stroke="#000" stroke-width="0.6" stroke-opacity="0.6"/>
<line x1="524.04" y1="149.0" x2="524.04" y2="147.40" stroke="#000" stroke-width="0.6" stroke-opacity="0.6"/>
<line x1="528.18" y1="149.0" x2="528.18" y2="147.40" stroke="#000" stroke-width="0.6" stroke-opacity="0.6"/>
<line x1="532.32" y1="149.0" x2="532.32" y2="147.40" stroke="#000" stroke-width="0.6" stroke-opacity="0.6"/>
<line x1="536.46" y1="149.0" x2="536.46" y2="147.40" stroke="#000" stroke-width="0.6" stroke-opacity="0.6"/>
<line x1="540.60" y1="149.0" x2="540.60" y2="145.70" stroke="#000" stroke-width="0.6" stroke-opacity="0.6"/>
<line x1="544.74" y1="149.0" x2="544.74" y2="147.40" stroke="#000" stroke-width="0.6" stroke-opacity="0.6"/>
<line x1="548.88" y1="149.0" x2="548.88" y2="147.40" stroke="#000" stroke-width="0.6" stroke-opacity="0.6"/>
<line x1="553.02" y1="149.0" x2="553.02" y2="147.40" stroke="#000" stroke-width="0.6" stroke-opacity="0.6"/>
<line x1="557.16" y1="149.0" x2="557.16" y2="147.40" stroke="#000" stroke-width="0.6" stroke-opacity="0.6"/>
<text class="san" x="350.6" y="151.592" font-size="7.2" text-anchor="end" fill="#000" >&#8722;20</text>
<text class="san" x="350.6" y="136.542" font-size="7.2" text-anchor="end" fill="#000" >&#8722;15</text>
<text class="san" x="350.6" y="121.49199999999999" font-size="7.2" text-anchor="end" fill="#000" >&#8722;10</text>
<text class="san" x="350.6" y="106.442" font-size="7.2" text-anchor="end" fill="#000" >&#8722;5</text>
<text class="san" x="350.6" y="91.392" font-size="7.2" text-anchor="end" fill="#000" >0</text>
<text class="san" x="350.6" y="76.342" font-size="7.2" text-anchor="end" fill="#000" >5</text>
<text class="san" x="350.6" y="61.292" font-size="7.2" text-anchor="end" fill="#000" >10</text>
<text class="san" x="350.6" y="46.242" font-size="7.2" text-anchor="end" fill="#000" >15</text>
<text class="san" x="350.6" y="31.192" font-size="7.2" text-anchor="end" fill="#000" >20</text>
<text class="san" x="354.3" y="156.8" font-size="7.2" text-anchor="middle" fill="#000" >0</text>
<text class="san" x="375.0" y="156.8" font-size="7.2" text-anchor="middle" fill="#000" >0.5</text>
<text class="san" x="395.7" y="156.8" font-size="7.2" text-anchor="middle" fill="#000" >1</text>
<text class="san" x="416.4" y="156.8" font-size="7.2" text-anchor="middle" fill="#000" >1.5</text>
<text class="san" x="437.1" y="156.8" font-size="7.2" text-anchor="middle" fill="#000" >2</text>
<text class="san" x="457.8" y="156.8" font-size="7.2" text-anchor="middle" fill="#000" >2.5</text>
<text class="san" x="478.5" y="156.8" font-size="7.2" text-anchor="middle" fill="#000" >3</text>
<text class="san" x="499.20000000000005" y="156.8" font-size="7.2" text-anchor="middle" fill="#000" >3.5</text>
<text class="san" x="519.9" y="156.8" font-size="7.2" text-anchor="middle" fill="#000" >4</text>
<text class="san" x="540.6" y="156.8" font-size="7.2" text-anchor="middle" fill="#000" >4.5</text>
<rect x="560.50" y="142.98" width="12.00" height="6.32" fill="#6300ff"/>
<rect x="560.50" y="136.96" width="12.00" height="6.32" fill="#3300ff"/>
<rect x="560.50" y="130.94" width="12.00" height="6.32" fill="#0014ff"/>
<rect x="560.50" y="124.92" width="12.00" height="6.32" fill="#0044ff"/>
<rect x="560.50" y="118.90" width="12.00" height="6.32" fill="#008bff"/>
<rect x="560.50" y="112.88" width="12.00" height="6.32" fill="#00bbff"/>
<rect x="560.50" y="106.86" width="12.00" height="6.32" fill="#00fffc"/>
<rect x="560.50" y="100.84" width="12.00" height="6.32" fill="#00ffcc"/>
<rect x="560.50" y="94.82" width="12.00" height="6.32" fill="#00ff85"/>
<rect x="560.50" y="88.80" width="12.00" height="6.32" fill="#00ff55"/>
<rect x="560.50" y="82.78" width="12.00" height="6.32" fill="#00ff0e"/>
<rect x="560.50" y="76.76" width="12.00" height="6.32" fill="#22ff00"/>
<rect x="560.50" y="70.74" width="12.00" height="6.32" fill="#69ff00"/>
<rect x="560.50" y="64.72" width="12.00" height="6.32" fill="#99ff00"/>
<rect x="560.50" y="58.70" width="12.00" height="6.32" fill="#e0ff00"/>
<rect x="560.50" y="52.68" width="12.00" height="6.32" fill="#ffee00"/>
<rect x="560.50" y="46.66" width="12.00" height="6.32" fill="#ffa700"/>
<rect x="560.50" y="40.64" width="12.00" height="6.32" fill="#ff7700"/>
<rect x="560.50" y="34.62" width="12.00" height="6.32" fill="#ff3000"/>
<rect x="560.50" y="28.60" width="12.00" height="6.32" fill="#ff0000"/>
<line x1="565.70" y1="149.00" x2="572.5" y2="149.00" stroke="#000" stroke-width="0.7" stroke-opacity="0.7"/>
<text class="san" x="573.2" y="150.872" font-size="5.2" text-anchor="start" fill="#000" textLength="2.56" lengthAdjust="spacingAndGlyphs" >0</text>
<line x1="565.70" y1="132.14" x2="572.5" y2="132.14" stroke="#000" stroke-width="0.7" stroke-opacity="0.7"/>
<text class="san" x="573.2" y="134.012" font-size="5.2" text-anchor="start" fill="#000" textLength="11.51" lengthAdjust="spacingAndGlyphs" >0.001</text>
<line x1="565.70" y1="115.28" x2="572.5" y2="115.28" stroke="#000" stroke-width="0.7" stroke-opacity="0.7"/>
<text class="san" x="573.2" y="117.152" font-size="5.2" text-anchor="start" fill="#000" textLength="11.51" lengthAdjust="spacingAndGlyphs" >0.002</text>
<line x1="565.70" y1="98.42" x2="572.5" y2="98.42" stroke="#000" stroke-width="0.7" stroke-opacity="0.7"/>
<text class="san" x="573.2" y="100.292" font-size="5.2" text-anchor="start" fill="#000" textLength="11.51" lengthAdjust="spacingAndGlyphs" >0.003</text>
<line x1="565.70" y1="81.56" x2="572.5" y2="81.56" stroke="#000" stroke-width="0.7" stroke-opacity="0.7"/>
<text class="san" x="573.2" y="83.432" font-size="5.2" text-anchor="start" fill="#000" textLength="11.51" lengthAdjust="spacingAndGlyphs" >0.004</text>
<line x1="565.70" y1="64.70" x2="572.5" y2="64.70" stroke="#000" stroke-width="0.7" stroke-opacity="0.7"/>
<text class="san" x="573.2" y="66.572" font-size="5.2" text-anchor="start" fill="#000" textLength="11.51" lengthAdjust="spacingAndGlyphs" >0.005</text>
<line x1="565.70" y1="47.84" x2="572.5" y2="47.84" stroke="#000" stroke-width="0.7" stroke-opacity="0.7"/>
<text class="san" x="573.2" y="49.712" font-size="5.2" text-anchor="start" fill="#000" textLength="11.51" lengthAdjust="spacingAndGlyphs" >0.006</text>
<line x1="565.70" y1="30.98" x2="572.5" y2="30.98" stroke="#000" stroke-width="0.7" stroke-opacity="0.7"/>
<text class="san" x="573.2" y="32.852000000000004" font-size="5.2" text-anchor="start" fill="#000" textLength="11.51" lengthAdjust="spacingAndGlyphs" >0.007</text>
<text class="san" x="418.9" y="24.3" font-size="11.4" text-anchor="start" fill="#000" textLength="73.7" lengthAdjust="spacingAndGlyphs" >Reconstruction</text>
<text x="543" y="163" font-size="7.5" font-family="Liberation Sans">t<tspan font-size="5" dy="1.5">e</tspan><tspan dy="-1.5">(ns)</tspan></text>
<text transform="translate(333.6,28.3) rotate(-90)" font-size="6.9" text-anchor="end" textLength="19" lengthAdjust="spacingAndGlyphs">z (cm)</text>
<text class="ser" x="446.0" y="192.5" font-size="18.5" text-anchor="start" fill="#000" >(</text>
<text class="ser" x="465.8" y="192.5" font-size="18.5" text-anchor="end" fill="#000" >)</text>
<text class="ser" x="455.9" y="193" font-size="16" text-anchor="middle" fill="#000" >b</text>
<rect x="45.45" y="340.20" width="4.58" height="11.60" fill="#00ff0e"/>
<rect x="50.03" y="333.50" width="4.58" height="3.80" fill="#00ff0e"/>
<rect x="50.03" y="337.30" width="4.58" height="2.70" fill="#e0ff00"/>
<rect x="50.03" y="340.00" width="4.58" height="2.00" fill="#ff7700"/>
<rect x="50.03" y="342.00" width="4.58" height="10.00" fill="#ff0000"/>
<rect x="50.03" y="352.00" width="4.58" height="3.00" fill="#99ff00"/>
<rect x="50.03" y="355.00" width="4.58" height="3.50" fill="#00ff0e"/>
<rect x="54.61" y="328.10" width="4.58" height="13.10" fill="#00ff0e"/>
<rect x="54.61" y="341.20" width="4.58" height="1.90" fill="#99ff00"/>
<rect x="54.61" y="343.10" width="4.58" height="1.90" fill="#00ff0e"/>
<rect x="54.61" y="345.00" width="4.58" height="2.00" fill="#e0ff00"/>
<rect x="54.61" y="347.00" width="4.58" height="9.50" fill="#00ff0e"/>
<rect x="59.19" y="324.70" width="4.58" height="19.30" fill="#00ff0e"/>
<rect x="63.77" y="315.00" width="4.58" height="22.40" fill="#00ff0e"/>
<rect x="68.35" y="313.10" width="4.58" height="4.90" fill="#00ff0e"/>
<rect x="68.35" y="318.00" width="4.58" height="6.80" fill="#22ff00"/>
<rect x="68.35" y="324.80" width="4.58" height="1.90" fill="#e0ff00"/>
<rect x="68.35" y="326.70" width="4.58" height="5.80" fill="#00ff0e"/>
<rect x="72.93" y="304.90" width="4.58" height="13.10" fill="#00ff55"/>
<rect x="72.93" y="318.00" width="4.58" height="14.50" fill="#00ff85"/>
<rect x="77.51" y="303.00" width="4.58" height="2.00" fill="#00ff0e"/>
<rect x="77.51" y="305.00" width="4.58" height="22.00" fill="#00ff85"/>
<rect x="82.09" y="304.90" width="4.58" height="18.40" fill="#00ff85"/>
<rect x="82.09" y="325.00" width="4.58" height="1.60" fill="#00ff85"/>
<rect x="86.67" y="295.70" width="4.58" height="2.30" fill="#00ff85"/>
<rect x="86.67" y="298.00" width="4.58" height="14.00" fill="#00ff0e"/>
<rect x="86.67" y="312.00" width="4.58" height="4.00" fill="#00ff85"/>
<rect x="86.67" y="318.00" width="4.58" height="2.00" fill="#00ff85"/>
<rect x="91.25" y="291.00" width="4.58" height="5.00" fill="#00ff85"/>
<rect x="91.25" y="296.00" width="4.58" height="10.00" fill="#00ff55"/>
<rect x="91.25" y="306.00" width="4.58" height="5.20" fill="#00ff85"/>
<rect x="95.83" y="286.30" width="4.58" height="3.70" fill="#00ff85"/>
<rect x="95.83" y="291.00" width="4.58" height="6.40" fill="#00ff85"/>
<rect x="100.41" y="281.30" width="4.58" height="6.70" fill="#00ff85"/>
<rect x="100.41" y="288.00" width="4.58" height="4.00" fill="#00ff0e"/>
<rect x="100.41" y="292.00" width="4.58" height="15.80" fill="#00ff85"/>
<rect x="104.99" y="276.10" width="4.58" height="1.50" fill="#00ff85"/>
<rect x="104.99" y="281.20" width="4.58" height="8.80" fill="#00ff55"/>
<rect x="104.99" y="290.00" width="4.58" height="14.00" fill="#00ff85"/>
<rect x="109.57" y="272.90" width="4.58" height="2.10" fill="#00ff85"/>
<rect x="109.57" y="275.00" width="4.58" height="17.80" fill="#00ff0e"/>
<rect x="109.57" y="292.80" width="4.58" height="6.80" fill="#00ff85"/>
<rect x="114.15" y="267.80" width="4.58" height="2.20" fill="#00ff85"/>
<rect x="114.15" y="270.00" width="4.58" height="5.40" fill="#00ff0e"/>
<rect x="114.15" y="275.40" width="4.58" height="12.60" fill="#69ff00"/>
<rect x="114.15" y="288.00" width="4.58" height="6.80" fill="#00ff0e"/>
<rect x="118.73" y="266.30" width="4.58" height="1.80" fill="#00ff85"/>
<rect x="118.73" y="268.10" width="4.58" height="20.90" fill="#00ff0e"/>
<rect x="31.9" y="234.2" width="228.40" height="133.80" fill="none" stroke="#bdbdbd" stroke-width="1.3" style="shape-rendering:auto"/>
<line x1="31.9" y1="368.00" x2="38.50" y2="368.00" stroke="#000" stroke-width="0.6" stroke-opacity="0.55"/>
<line x1="31.9" y1="364.66" x2="35.20" y2="364.66" stroke="#000" stroke-width="0.6" stroke-opacity="0.55"/>
<line x1="31.9" y1="361.31" x2="35.20" y2="361.31" stroke="#000" stroke-width="0.6" stroke-opacity="0.55"/>
<line x1="31.9" y1="357.97" x2="35.20" y2="357.97" stroke="#000" stroke-width="0.6" stroke-opacity="0.55"/>
<line x1="31.9" y1="354.62" x2="35.20" y2="354.62" stroke="#000" stroke-width="0.6" stroke-opacity="0.55"/>
<line x1="31.9" y1="351.28" x2="38.50" y2="351.28" stroke="#000" stroke-width="0.6" stroke-opacity="0.55"/>
<line x1="31.9" y1="347.93" x2="35.20" y2="347.93" stroke="#000" stroke-width="0.6" stroke-opacity="0.55"/>
<line x1="31.9" y1="344.59" x2="35.20" y2="344.59" stroke="#000" stroke-width="0.6" stroke-opacity="0.55"/>
<line x1="31.9" y1="341.24" x2="35.20" y2="341.24" stroke="#000" stroke-width="0.6" stroke-opacity="0.55"/>
<line x1="31.9" y1="337.90" x2="35.20" y2="337.90" stroke="#000" stroke-width="0.6" stroke-opacity="0.55"/>
<line x1="31.9" y1="334.55" x2="38.50" y2="334.55" stroke="#000" stroke-width="0.6" stroke-opacity="0.55"/>
<line x1="31.9" y1="331.21" x2="35.20" y2="331.21" stroke="#000" stroke-width="0.6" stroke-opacity="0.55"/>
<line x1="31.9" y1="327.86" x2="35.20" y2="327.86" stroke="#000" stroke-width="0.6" stroke-opacity="0.55"/>
<line x1="31.9" y1="324.52" x2="35.20" y2="324.52" stroke="#000" stroke-width="0.6" stroke-opacity="0.55"/>
<line x1="31.9" y1="321.17" x2="35.20" y2="321.17" stroke="#000" stroke-width="0.6" stroke-opacity="0.55"/>
<line x1="31.9" y1="317.83" x2="38.50" y2="317.83" stroke="#000" stroke-width="0.6" stroke-opacity="0.55"/>
<line x1="31.9" y1="314.48" x2="35.20" y2="314.48" stroke="#000" stroke-width="0.6" stroke-opacity="0.55"/>
<line x1="31.9" y1="311.14" x2="35.20" y2="311.14" stroke="#000" stroke-width="0.6" stroke-opacity="0.55"/>
<line x1="31.9" y1="307.79" x2="35.20" y2="307.79" stroke="#000" stroke-width="0.6" stroke-opacity="0.55"/>
<line x1="31.9" y1="304.45" x2="35.20" y2="304.45" stroke="#000" stroke-width="0.6" stroke-opacity="0.55"/>
<line x1="31.9" y1="301.10" x2="38.50" y2="301.10" stroke="#000" stroke-width="0.6" stroke-opacity="0.55"/>
<line x1="31.9" y1="297.75" x2="35.20" y2="297.75" stroke="#000" stroke-width="0.6" stroke-opacity="0.55"/>
<line x1="31.9" y1="294.41" x2="35.20" y2="294.41" stroke="#000" stroke-width="0.6" stroke-opacity="0.55"/>
<line x1="31.9" y1="291.06" x2="35.20" y2="291.06" stroke="#000" stroke-width="0.6" stroke-opacity="0.55"/>
<line x1="31.9" y1="287.72" x2="35.20" y2="287.72" stroke="#000" stroke-width="0.6" stroke-opacity="0.55"/>
<line x1="31.9" y1="284.38" x2="38.50" y2="284.38" stroke="#000" stroke-width="0.6" stroke-opacity="0.55"/>
<line x1="31.9" y1="281.03" x2="35.20" y2="281.03" stroke="#000" stroke-width="0.6" stroke-opacity="0.55"/>
<line x1="31.9" y1="277.69" x2="35.20" y2="277.69" stroke="#000" stroke-width="0.6" stroke-opacity="0.55"/>
<line x1="31.9" y1="274.34" x2="35.20" y2="274.34" stroke="#000" stroke-width="0.6" stroke-opacity="0.55"/>
<line x1="31.9" y1="271.00" x2="35.20" y2="271.00" stroke="#000" stroke-width="0.6" stroke-opacity="0.55"/>
<line x1="31.9" y1="267.65" x2="38.50" y2="267.65" stroke="#000" stroke-width="0.6" stroke-opacity="0.55"/>
<line x1="31.9" y1="264.31" x2="35.20" y2="264.31" stroke="#000" stroke-width="0.6" stroke-opacity="0.55"/>
<line x1="31.9" y1="260.96" x2="35.20" y2="260.96" stroke="#000" stroke-width="0.6" stroke-opacity="0.55"/>
<line x1="31.9" y1="257.62" x2="35.20" y2="257.62" stroke="#000" stroke-width="0.6" stroke-opacity="0.55"/>
<line x1="31.9" y1="254.27" x2="35.20" y2="254.27" stroke="#000" stroke-width="0.6" stroke-opacity="0.55"/>
<line x1="31.9" y1="250.93" x2="38.50" y2="250.93" stroke="#000" stroke-width="0.6" stroke-opacity="0.55"/>
<line x1="31.9" y1="247.58" x2="35.20" y2="247.58" stroke="#000" stroke-width="0.6" stroke-opacity="0.55"/>
<line x1="31.9" y1="244.24" x2="35.20" y2="244.24" stroke="#000" stroke-width="0.6" stroke-opacity="0.55"/>
<line x1="31.9" y1="240.89" x2="35.20" y2="240.89" stroke="#000" stroke-width="0.6" stroke-opacity="0.55"/>
<line x1="31.9" y1="237.55" x2="35.20" y2="237.55" stroke="#000" stroke-width="0.6" stroke-opacity="0.55"/>
<line x1="31.9" y1="234.20" x2="38.50" y2="234.20" stroke="#000" stroke-width="0.6" stroke-opacity="0.55"/>
<line x1="34.00" y1="368.0" x2="34.00" y2="364.40" stroke="#000" stroke-width="0.6" stroke-opacity="0.55"/>
<line x1="38.58" y1="368.0" x2="38.58" y2="366.20" stroke="#000" stroke-width="0.6" stroke-opacity="0.55"/>
<line x1="43.16" y1="368.0" x2="43.16" y2="366.20" stroke="#000" stroke-width="0.6" stroke-opacity="0.55"/>
<line x1="47.74" y1="368.0" x2="47.74" y2="366.20" stroke="#000" stroke-width="0.6" stroke-opacity="0.55"/>
<line x1="52.32" y1="368.0" x2="52.32" y2="366.20" stroke="#000" stroke-width="0.6" stroke-opacity="0.55"/>
<line x1="56.90" y1="368.0" x2="56.90" y2="364.40" stroke="#000" stroke-width="0.6" stroke-opacity="0.55"/>
<line x1="61.48" y1="368.0" x2="61.48" y2="366.20" stroke="#000" stroke-width="0.6" stroke-opacity="0.55"/>
<line x1="66.06" y1="368.0" x2="66.06" y2="366.20" stroke="#000" stroke-width="0.6" stroke-opacity="0.55"/>
<line x1="70.64" y1="368.0" x2="70.64" y2="366.20" stroke="#000" stroke-width="0.6" stroke-opacity="0.55"/>
<line x1="75.22" y1="368.0" x2="75.22" y2="366.20" stroke="#000" stroke-width="0.6" stroke-opacity="0.55"/>
<line x1="79.80" y1="368.0" x2="79.80" y2="364.40" stroke="#000" stroke-width="0.6" stroke-opacity="0.55"/>
<line x1="84.38" y1="368.0" x2="84.38" y2="366.20" stroke="#000" stroke-width="0.6" stroke-opacity="0.55"/>
<line x1="88.96" y1="368.0" x2="88.96" y2="366.20" stroke="#000" stroke-width="0.6" stroke-opacity="0.55"/>
<line x1="93.54" y1="368.0" x2="93.54" y2="366.20" stroke="#000" stroke-width="0.6" stroke-opacity="0.55"/>
<line x1="98.12" y1="368.0" x2="98.12" y2="366.20" stroke="#000" stroke-width="0.6" stroke-opacity="0.55"/>
<line x1="102.70" y1="368.0" x2="102.70" y2="364.40" stroke="#000" stroke-width="0.6" stroke-opacity="0.55"/>
<line x1="107.28" y1="368.0" x2="107.28" y2="366.20" stroke="#000" stroke-width="0.6" stroke-opacity="0.55"/>
<line x1="111.86" y1="368.0" x2="111.86" y2="366.20" stroke="#000" stroke-width="0.6" stroke-opacity="0.55"/>
<line x1="116.44" y1="368.0" x2="116.44" y2="366.20" stroke="#000" stroke-width="0.6" stroke-opacity="0.55"/>
<line x1="121.02" y1="368.0" x2="121.02" y2="366.20" stroke="#000" stroke-width="0.6" stroke-opacity="0.55"/>
<line x1="125.60" y1="368.0" x2="125.60" y2="364.40" stroke="#000" stroke-width="0.6" stroke-opacity="0.55"/>
<line x1="130.18" y1="368.0" x2="130.18" y2="366.20" stroke="#000" stroke-width="0.6" stroke-opacity="0.55"/>
<line x1="134.76" y1="368.0" x2="134.76" y2="366.20" stroke="#000" stroke-width="0.6" stroke-opacity="0.55"/>
<line x1="139.34" y1="368.0" x2="139.34" y2="366.20" stroke="#000" stroke-width="0.6" stroke-opacity="0.55"/>
<line x1="143.92" y1="368.0" x2="143.92" y2="366.20" stroke="#000" stroke-width="0.6" stroke-opacity="0.55"/>
<line x1="148.50" y1="368.0" x2="148.50" y2="364.40" stroke="#000" stroke-width="0.6" stroke-opacity="0.55"/>
<line x1="153.08" y1="368.0" x2="153.08" y2="366.20" stroke="#000" stroke-width="0.6" stroke-opacity="0.55"/>
<line x1="157.66" y1="368.0" x2="157.66" y2="366.20" stroke="#000" stroke-width="0.6" stroke-opacity="0.55"/>
<line x1="162.24" y1="368.0" x2="162.24" y2="366.20" stroke="#000" stroke-width="0.6" stroke-opacity="0.55"/>
<line x1="166.82" y1="368.0" x2="166.82" y2="366.20" stroke="#000" stroke-width="0.6" stroke-opacity="0.55"/>
<line x1="171.40" y1="368.0" x2="171.40" y2="364.40" stroke="#000" stroke-width="0.6" stroke-opacity="0.55"/>
<line x1="175.98" y1="368.0" x2="175.98" y2="366.20" stroke="#000" stroke-width="0.6" stroke-opacity="0.55"/>
<line x1="180.56" y1="368.0" x2="180.56" y2="366.20" stroke="#000" stroke-width="0.6" stroke-opacity="0.55"/>
<line x1="185.14" y1="368.0" x2="185.14" y2="366.20" stroke="#000" stroke-width="0.6" stroke-opacity="0.55"/>
<line x1="189.72" y1="368.0" x2="189.72" y2="366.20" stroke="#000" stroke-width="0.6" stroke-opacity="0.55"/>
<line x1="194.30" y1="368.0" x2="194.30" y2="364.40" stroke="#000" stroke-width="0.6" stroke-opacity="0.55"/>
<line x1="198.88" y1="368.0" x2="198.88" y2="366.20" stroke="#000" stroke-width="0.6" stroke-opacity="0.55"/>
<line x1="203.46" y1="368.0" x2="203.46" y2="366.20" stroke="#000" stroke-width="0.6" stroke-opacity="0.55"/>
<line x1="208.04" y1="368.0" x2="208.04" y2="366.20" stroke="#000" stroke-width="0.6" stroke-opacity="0.55"/>
<line x1="212.62" y1="368.0" x2="212.62" y2="366.20" stroke="#000" stroke-width="0.6" stroke-opacity="0.55"/>
<line x1="217.20" y1="368.0" x2="217.20" y2="364.40" stroke="#000" stroke-width="0.6" stroke-opacity="0.55"/>
<line x1="221.78" y1="368.0" x2="221.78" y2="366.20" stroke="#000" stroke-width="0.6" stroke-opacity="0.55"/>
<line x1="226.36" y1="368.0" x2="226.36" y2="366.20" stroke="#000" stroke-width="0.6" stroke-opacity="0.55"/>
<line x1="230.94" y1="368.0" x2="230.94" y2="366.20" stroke="#000" stroke-width="0.6" stroke-opacity="0.55"/>
<line x1="235.52" y1="368.0" x2="235.52" y2="366.20" stroke="#000" stroke-width="0.6" stroke-opacity="0.55"/>
<line x1="240.10" y1="368.0" x2="240.10" y2="364.40" stroke="#000" stroke-width="0.6" stroke-opacity="0.55"/>
<line x1="244.68" y1="368.0" x2="244.68" y2="366.20" stroke="#000" stroke-width="0.6" stroke-opacity="0.55"/>
<line x1="249.26" y1="368.0" x2="249.26" y2="366.20" stroke="#000" stroke-width="0.6" stroke-opacity="0.55"/>
<line x1="253.84" y1="368.0" x2="253.84" y2="366.20" stroke="#000" stroke-width="0.6" stroke-opacity="0.55"/>
<line x1="258.42" y1="368.0" x2="258.42" y2="366.20" stroke="#000" stroke-width="0.6" stroke-opacity="0.55"/>
<text class="san" x="30.2" y="369.98" font-size="8.0" text-anchor="end" fill="#000" >&#8722;20</text>
<text class="san" x="30.2" y="353.25500000000005" font-size="8.0" text-anchor="end" fill="#000" >&#8722;15</text>
<text class="san" x="30.2" y="336.53000000000003" font-size="8.0" text-anchor="end" fill="#000" >&#8722;10</text>
<text class="san" x="30.2" y="319.80500000000006" font-size="8.0" text-anchor="end" fill="#000" >&#8722;5</text>
<text class="san" x="30.2" y="303.08000000000004" font-size="8.0" text-anchor="end" fill="#000" >0</text>
<text class="san" x="30.2" y="286.355" font-size="8.0" text-anchor="end" fill="#000" >5</text>
<text class="san" x="30.2" y="269.63000000000005" font-size="8.0" text-anchor="end" fill="#000" >10</text>
<text class="san" x="30.2" y="252.905" font-size="8.0" text-anchor="end" fill="#000" >15</text>
<text class="san" x="30.2" y="236.18" font-size="8.0" text-anchor="end" fill="#000" >20</text>
<text class="san" x="34.0" y="376" font-size="8.0" text-anchor="middle" fill="#000" >0</text>
<text class="san" x="56.9" y="376" font-size="8.0" text-anchor="middle" fill="#000" >0.5</text>
<text class="san" x="79.8" y="376" font-size="8.0" text-anchor="middle" fill="#000" >1</text>
<text class="san" x="102.69999999999999" y="376" font-size="8.0" text-anchor="middle" fill="#000" >1.5</text>
<text class="san" x="125.6" y="376" font-size="8.0" text-anchor="middle" fill="#000" >2</text>
<text class="san" x="148.5" y="376" font-size="8.0" text-anchor="middle" fill="#000" >2.5</text>
<text class="san" x="171.39999999999998" y="376" font-size="8.0" text-anchor="middle" fill="#000" >3</text>
<text class="san" x="194.29999999999998" y="376" font-size="8.0" text-anchor="middle" fill="#000" >3.5</text>
<text class="san" x="217.2" y="376" font-size="8.0" text-anchor="middle" fill="#000" >4</text>
<text class="san" x="240.1" y="376" font-size="8.0" text-anchor="middle" fill="#000" >4.5</text>
<rect x="260.60" y="361.31" width="14.80" height="6.99" fill="#6300ff"/>
<rect x="260.60" y="354.62" width="14.80" height="6.99" fill="#3300ff"/>
<rect x="260.60" y="347.93" width="14.80" height="6.99" fill="#0014ff"/>
<rect x="260.60" y="341.24" width="14.80" height="6.99" fill="#0044ff"/>
<rect x="260.60" y="334.55" width="14.80" height="6.99" fill="#008bff"/>
<rect x="260.60" y="327.86" width="14.80" height="6.99" fill="#00bbff"/>
<rect x="260.60" y="321.17" width="14.80" height="6.99" fill="#00fffc"/>
<rect x="260.60" y="314.48" width="14.80" height="6.99" fill="#00ffcc"/>
<rect x="260.60" y="307.79" width="14.80" height="6.99" fill="#00ff85"/>
<rect x="260.60" y="301.10" width="14.80" height="6.99" fill="#00ff55"/>
<rect x="260.60" y="294.41" width="14.80" height="6.99" fill="#00ff0e"/>
<rect x="260.60" y="287.72" width="14.80" height="6.99" fill="#22ff00"/>
<rect x="260.60" y="281.03" width="14.80" height="6.99" fill="#69ff00"/>
<rect x="260.60" y="274.34" width="14.80" height="6.99" fill="#99ff00"/>
<rect x="260.60" y="267.65" width="14.80" height="6.99" fill="#e0ff00"/>
<rect x="260.60" y="260.96" width="14.80" height="6.99" fill="#ffee00"/>
<rect x="260.60" y="254.27" width="14.80" height="6.99" fill="#ffa700"/>
<rect x="260.60" y="247.58" width="14.80" height="6.99" fill="#ff7700"/>
<rect x="260.60" y="240.89" width="14.80" height="6.99" fill="#ff3000"/>
<rect x="260.60" y="234.20" width="14.80" height="6.99" fill="#ff0000"/>
<line x1="268.60" y1="368.00" x2="275.4" y2="368.00" stroke="#000" stroke-width="0.7" stroke-opacity="0.7"/>
<text class="san" x="276.2" y="370.016" font-size="5.6" text-anchor="start" fill="#000" textLength="2.78" lengthAdjust="spacingAndGlyphs" >0</text>
<line x1="268.60" y1="349.28" x2="275.4" y2="349.28" stroke="#000" stroke-width="0.7" stroke-opacity="0.7"/>
<text class="san" x="276.2" y="351.296" font-size="5.6" text-anchor="start" fill="#000" textLength="12.51" lengthAdjust="spacingAndGlyphs" >0.001</text>
<line x1="268.60" y1="330.56" x2="275.4" y2="330.56" stroke="#000" stroke-width="0.7" stroke-opacity="0.7"/>
<text class="san" x="276.2" y="332.576" font-size="5.6" text-anchor="start" fill="#000" textLength="12.51" lengthAdjust="spacingAndGlyphs" >0.002</text>
<line x1="268.60" y1="311.84" x2="275.4" y2="311.84" stroke="#000" stroke-width="0.7" stroke-opacity="0.7"/>
<text class="san" x="276.2" y="313.85600000000005" font-size="5.6" text-anchor="start" fill="#000" textLength="12.51" lengthAdjust="spacingAndGlyphs" >0.003</text>
<line x1="268.60" y1="293.12" x2="275.4" y2="293.12" stroke="#000" stroke-width="0.7" stroke-opacity="0.7"/>
<text class="san" x="276.2" y="295.136" font-size="5.6" text-anchor="start" fill="#000" textLength="12.51" lengthAdjust="spacingAndGlyphs" >0.004</text>
<line x1="268.60" y1="274.40" x2="275.4" y2="274.40" stroke="#000" stroke-width="0.7" stroke-opacity="0.7"/>
<text class="san" x="276.2" y="276.416" font-size="5.6" text-anchor="start" fill="#000" textLength="12.51" lengthAdjust="spacingAndGlyphs" >0.005</text>
<line x1="268.60" y1="255.68" x2="275.4" y2="255.68" stroke="#000" stroke-width="0.7" stroke-opacity="0.7"/>
<text class="san" x="276.2" y="257.696" font-size="5.6" text-anchor="start" fill="#000" textLength="12.51" lengthAdjust="spacingAndGlyphs" >0.006</text>
<line x1="268.60" y1="236.96" x2="275.4" y2="236.96" stroke="#000" stroke-width="0.7" stroke-opacity="0.7"/>
<text class="san" x="276.2" y="238.976" font-size="5.6" text-anchor="start" fill="#000" textLength="12.51" lengthAdjust="spacingAndGlyphs" >0.007</text>
<text class="san" x="80.4" y="227.4" font-size="12.6" text-anchor="start" fill="#000" textLength="149.6" lengthAdjust="spacingAndGlyphs" >Thresholded reconstruction</text>
<text x="260.6" y="383.5" font-size="7.6" text-anchor="end">t<tspan font-size="5" dy="1.5">e</tspan><tspan dy="-1.5">(ns)</tspan></text>
<text transform="translate(9.2,234) rotate(-90)" font-size="7.6" text-anchor="end" textLength="21" lengthAdjust="spacingAndGlyphs">z (cm)</text>
<text class="ser" x="137.8" y="406.5" font-size="18.5" text-anchor="start" fill="#000" >(</text>
<text class="ser" x="155.5" y="406.5" font-size="18.5" text-anchor="end" fill="#000" >)</text>
<text class="ser" x="146.65" y="407" font-size="16" text-anchor="middle" fill="#000" >c</text>
<rect x="345.3" y="229.5" width="253.50" height="130.80" fill="none" stroke="#b0b0b0" stroke-width="1"/>
<line x1="345.3" y1="229.5" x2="345.3" y2="360.3" stroke="#777" stroke-width="0.9"/>
<line x1="345.3" y1="360.3" x2="598.8" y2="360.3" stroke="#777" stroke-width="0.9"/>
<line x1="343.7" y1="359.84" x2="345.3" y2="359.84" stroke="#666" stroke-width="0.6"/>
<line x1="343.7" y1="355.02" x2="345.3" y2="355.02" stroke="#666" stroke-width="0.6"/>
<line x1="342.1" y1="350.2" x2="345.3" y2="350.2" stroke="#666" stroke-width="0.6"/>
<line x1="343.7" y1="345.38" x2="345.3" y2="345.38" stroke="#666" stroke-width="0.6"/>
<line x1="343.7" y1="340.56" x2="345.3" y2="340.56" stroke="#666" stroke-width="0.6"/>
<line x1="343.7" y1="335.74" x2="345.3" y2="335.74" stroke="#666" stroke-width="0.6"/>
<line x1="343.7" y1="330.91999999999996" x2="345.3" y2="330.91999999999996" stroke="#666" stroke-width="0.6"/>
<line x1="342.1" y1="326.09999999999997" x2="345.3" y2="326.09999999999997" stroke="#666" stroke-width="0.6"/>
<line x1="343.7" y1="321.28" x2="345.3" y2="321.28" stroke="#666" stroke-width="0.6"/>
<line x1="343.7" y1="316.46" x2="345.3" y2="316.46" stroke="#666" stroke-width="0.6"/>
<line x1="343.7" y1="311.64" x2="345.3" y2="311.64" stroke="#666" stroke-width="0.6"/>
<line x1="343.7" y1="306.82" x2="345.3" y2="306.82" stroke="#666" stroke-width="0.6"/>
<line x1="342.1" y1="302.0" x2="345.3" y2="302.0" stroke="#666" stroke-width="0.6"/>
<line x1="343.7" y1="297.17999999999995" x2="345.3" y2="297.17999999999995" stroke="#666" stroke-width="0.6"/>
<line x1="343.7" y1="292.35999999999996" x2="345.3" y2="292.35999999999996" stroke="#666" stroke-width="0.6"/>
<line x1="343.7" y1="287.53999999999996" x2="345.3" y2="287.53999999999996" stroke="#666" stroke-width="0.6"/>
<line x1="343.7" y1="282.71999999999997" x2="345.3" y2="282.71999999999997" stroke="#666" stroke-width="0.6"/>
<line x1="342.1" y1="277.9" x2="345.3" y2="277.9" stroke="#666" stroke-width="0.6"/>
<line x1="343.7" y1="273.08" x2="345.3" y2="273.08" stroke="#666" stroke-width="0.6"/>
<line x1="343.7" y1="268.26" x2="345.3" y2="268.26" stroke="#666" stroke-width="0.6"/>
<line x1="343.7" y1="263.44" x2="345.3" y2="263.44" stroke="#666" stroke-width="0.6"/>
<line x1="343.7" y1="258.62" x2="345.3" y2="258.62" stroke="#666" stroke-width="0.6"/>
<line x1="342.1" y1="253.79999999999998" x2="345.3" y2="253.79999999999998" stroke="#666" stroke-width="0.6"/>
<line x1="343.7" y1="248.97999999999996" x2="345.3" y2="248.97999999999996" stroke="#666" stroke-width="0.6"/>
<line x1="343.7" y1="244.15999999999997" x2="345.3" y2="244.15999999999997" stroke="#666" stroke-width="0.6"/>
<line x1="343.7" y1="239.33999999999997" x2="345.3" y2="239.33999999999997" stroke="#666" stroke-width="0.6"/>
<line x1="343.7" y1="234.51999999999998" x2="345.3" y2="234.51999999999998" stroke="#666" stroke-width="0.6"/>
<line x1="342.1" y1="229.7" x2="345.3" y2="229.7" stroke="#666" stroke-width="0.6"/>
<text class="san" x="341.3" y="232.5" font-size="8.4" text-anchor="end" fill="#222" >10</text>
<text class="san" x="341.3" y="256.59999999999997" font-size="8.4" text-anchor="end" fill="#222" >5</text>
<text class="san" x="341.3" y="280.7" font-size="8.4" text-anchor="end" fill="#222" >0</text>
<text class="san" x="341.3" y="304.8" font-size="8.4" text-anchor="end" fill="#222" >&#8722;5</text>
<text class="san" x="341.3" y="328.9" font-size="8.4" text-anchor="end" fill="#222" >&#8722;10</text>
<text class="san" x="341.3" y="353.0" font-size="8.4" text-anchor="end" fill="#222" >&#8722;15</text>
<line x1="345.3" y1="360.3" x2="345.3" y2="363.5" stroke="#666" stroke-width="0.6"/>
<line x1="356.84000000000003" y1="360.3" x2="356.84000000000003" y2="361.90000000000003" stroke="#666" stroke-width="0.6"/>
<line x1="368.38" y1="360.3" x2="368.38" y2="361.90000000000003" stroke="#666" stroke-width="0.6"/>
<line x1="379.92" y1="360.3" x2="379.92" y2="361.90000000000003" stroke="#666" stroke-width="0.6"/>
<line x1="391.46000000000004" y1="360.3" x2="391.46000000000004" y2="361.90000000000003" stroke="#666" stroke-width="0.6"/>
<line x1="403.0" y1="360.3" x2="403.0" y2="363.5" stroke="#666" stroke-width="0.6"/>
<line x1="414.54" y1="360.3" x2="414.54" y2="361.90000000000003" stroke="#666" stroke-width="0.6"/>
<line x1="426.08000000000004" y1="360.3" x2="426.08000000000004" y2="361.90000000000003" stroke="#666" stroke-width="0.6"/>
<line x1="437.62" y1="360.3" x2="437.62" y2="361.90000000000003" stroke="#666" stroke-width="0.6"/>
<line x1="449.16" y1="360.3" x2="449.16" y2="361.90000000000003" stroke="#666" stroke-width="0.6"/>
<line x1="460.70000000000005" y1="360.3" x2="460.70000000000005" y2="363.5" stroke="#666" stroke-width="0.6"/>
<line x1="472.24" y1="360.3" x2="472.24" y2="361.90000000000003" stroke="#666" stroke-width="0.6"/>
<line x1="483.78000000000003" y1="360.3" x2="483.78000000000003" y2="361.90000000000003" stroke="#666" stroke-width="0.6"/>
<line x1="495.32000000000005" y1="360.3" x2="495.32000000000005" y2="361.90000000000003" stroke="#666" stroke-width="0.6"/>
<line x1="506.86" y1="360.3" x2="506.86" y2="361.90000000000003" stroke="#666" stroke-width="0.6"/>
<line x1="518.4000000000001" y1="360.3" x2="518.4000000000001" y2="363.5" stroke="#666" stroke-width="0.6"/>
<line x1="529.94" y1="360.3" x2="529.94" y2="361.90000000000003" stroke="#666" stroke-width="0.6"/>
<line x1="541.48" y1="360.3" x2="541.48" y2="361.90000000000003" stroke="#666" stroke-width="0.6"/>
<line x1="553.02" y1="360.3" x2="553.02" y2="361.90000000000003" stroke="#666" stroke-width="0.6"/>
<line x1="564.5600000000001" y1="360.3" x2="564.5600000000001" y2="361.90000000000003" stroke="#666" stroke-width="0.6"/>
<line x1="576.1" y1="360.3" x2="576.1" y2="363.5" stroke="#666" stroke-width="0.6"/>
<line x1="587.6400000000001" y1="360.3" x2="587.6400000000001" y2="361.90000000000003" stroke="#666" stroke-width="0.6"/>
<line x1="599.1800000000001" y1="360.3" x2="599.1800000000001" y2="361.90000000000003" stroke="#666" stroke-width="0.6"/>
<text class="san" x="345.3" y="371.9" font-size="8.4" text-anchor="middle" fill="#222" >0</text>
<text class="san" x="403.0" y="371.9" font-size="8.4" text-anchor="middle" fill="#222" >0.5</text>
<text class="san" x="460.70000000000005" y="371.9" font-size="8.4" text-anchor="middle" fill="#222" >1</text>
<text class="san" x="518.4000000000001" y="371.9" font-size="8.4" text-anchor="middle" fill="#222" >1.5</text>
<text class="san" x="576.1" y="371.9" font-size="8.4" text-anchor="middle" fill="#222" >2</text>
<text class="san" x="460.4" y="385.6" font-size="9.2" text-anchor="start" fill="#222" textLength="23" lengthAdjust="spacingAndGlyphs" >t (ns)</text>
<text transform="translate(321.6,295) rotate(-90)" font-size="9.2" text-anchor="middle" textLength="28" lengthAdjust="spacingAndGlyphs" fill="#222">z (cm)</text>
<text class="san" x="371" y="220" font-size="9.6" text-anchor="start" fill="#222" textLength="168.4" lengthAdjust="spacingAndGlyphs" >Spatiotemporal emission reconstruction</text>
<line x1="379.92" y1="342.729" x2="379.92" y2="344.17499999999995" stroke="#000" stroke-width="0.8"/>
<line x1="378.12" y1="342.729" x2="381.72" y2="342.729" stroke="#000" stroke-width="0.8"/>
<line x1="378.12" y1="344.17499999999995" x2="381.72" y2="344.17499999999995" stroke="#000" stroke-width="0.8"/>
<circle cx="379.92" cy="343.45" r="1.5" fill="#000"/>
<line x1="391.46000000000004" y1="342.006" x2="391.46000000000004" y2="343.93399999999997" stroke="#000" stroke-width="0.8"/>
<line x1="389.66" y1="342.006" x2="393.26000000000005" y2="342.006" stroke="#000" stroke-width="0.8"/>
<line x1="389.66" y1="343.93399999999997" x2="393.26000000000005" y2="343.93399999999997" stroke="#000" stroke-width="0.8"/>
<circle cx="391.46" cy="342.97" r="1.5" fill="#000"/>
<line x1="403.0" y1="335.74" x2="403.0" y2="339.596" stroke="#000" stroke-width="0.8"/>
<line x1="401.2" y1="335.74" x2="404.8" y2="335.74" stroke="#000" stroke-width="0.8"/>
<line x1="401.2" y1="339.596" x2="404.8" y2="339.596" stroke="#000" stroke-width="0.8"/>
<circle cx="403.00" cy="337.67" r="1.5" fill="#000"/>
<line x1="414.54" y1="326.09999999999997" x2="414.54" y2="329.95599999999996" stroke="#000" stroke-width="0.8"/>
<line x1="412.74" y1="326.09999999999997" x2="416.34000000000003" y2="326.09999999999997" stroke="#000" stroke-width="0.8"/>
<line x1="412.74" y1="329.95599999999996" x2="416.34000000000003" y2="329.95599999999996" stroke="#000" stroke-width="0.8"/>
<circle cx="414.54" cy="328.03" r="1.5" fill="#000"/>
<line x1="426.08000000000004" y1="316.46" x2="426.08000000000004" y2="321.28" stroke="#000" stroke-width="0.8"/>
<line x1="424.28000000000003" y1="316.46" x2="427.88000000000005" y2="316.46" stroke="#000" stroke-width="0.8"/>
<line x1="424.28000000000003" y1="321.28" x2="427.88000000000005" y2="321.28" stroke="#000" stroke-width="0.8"/>
<circle cx="426.08" cy="318.87" r="1.5" fill="#000"/>
<line x1="437.62" y1="310.676" x2="437.62" y2="317.424" stroke="#000" stroke-width="0.8"/>
<line x1="435.82" y1="310.676" x2="439.42" y2="310.676" stroke="#000" stroke-width="0.8"/>
<line x1="435.82" y1="317.424" x2="439.42" y2="317.424" stroke="#000" stroke-width="0.8"/>
<circle cx="437.62" cy="314.05" r="1.5" fill="#000"/>
<line x1="449.16" y1="303.928" x2="449.16" y2="309.712" stroke="#000" stroke-width="0.8"/>
<line x1="447.36" y1="303.928" x2="450.96000000000004" y2="303.928" stroke="#000" stroke-width="0.8"/>
<line x1="447.36" y1="309.712" x2="450.96000000000004" y2="309.712" stroke="#000" stroke-width="0.8"/>
<circle cx="449.16" cy="306.82" r="1.5" fill="#000"/>
<line x1="460.70000000000005" y1="296.698" x2="460.70000000000005" y2="302.48199999999997" stroke="#000" stroke-width="0.8"/>
<line x1="458.90000000000003" y1="296.698" x2="462.50000000000006" y2="296.698" stroke="#000" stroke-width="0.8"/>
<line x1="458.90000000000003" y1="302.48199999999997" x2="462.50000000000006" y2="302.48199999999997" stroke="#000" stroke-width="0.8"/>
<circle cx="460.70" cy="299.59" r="1.5" fill="#000"/>
<line x1="472.24" y1="292.842" x2="472.24" y2="299.59" stroke="#000" stroke-width="0.8"/>
<line x1="470.44" y1="292.842" x2="474.04" y2="292.842" stroke="#000" stroke-width="0.8"/>
<line x1="470.44" y1="299.59" x2="474.04" y2="299.59" stroke="#000" stroke-width="0.8"/>
<circle cx="472.24" cy="296.22" r="1.5" fill="#000"/>
<line x1="483.78" y1="283.202" x2="483.78" y2="291.878" stroke="#000" stroke-width="0.8"/>
<line x1="481.97999999999996" y1="283.202" x2="485.58" y2="283.202" stroke="#000" stroke-width="0.8"/>
<line x1="481.97999999999996" y1="291.878" x2="485.58" y2="291.878" stroke="#000" stroke-width="0.8"/>
<circle cx="483.78" cy="287.54" r="1.5" fill="#000"/>
<line x1="495.32000000000005" y1="276.936" x2="495.32000000000005" y2="282.71999999999997" stroke="#000" stroke-width="0.8"/>
<line x1="493.52000000000004" y1="276.936" x2="497.12000000000006" y2="276.936" stroke="#000" stroke-width="0.8"/>
<line x1="493.52000000000004" y1="282.71999999999997" x2="497.12000000000006" y2="282.71999999999997" stroke="#000" stroke-width="0.8"/>
<circle cx="495.32" cy="279.83" r="1.5" fill="#000"/>
<line x1="506.86" y1="270.188" x2="506.86" y2="279.828" stroke="#000" stroke-width="0.8"/>
<line x1="505.06" y1="270.188" x2="508.66" y2="270.188" stroke="#000" stroke-width="0.8"/>
<line x1="505.06" y1="279.828" x2="508.66" y2="279.828" stroke="#000" stroke-width="0.8"/>
<circle cx="506.86" cy="275.01" r="1.5" fill="#000"/>
<line x1="518.4000000000001" y1="267.296" x2="518.4000000000001" y2="275.008" stroke="#000" stroke-width="0.8"/>
<line x1="516.6000000000001" y1="267.296" x2="520.2" y2="267.296" stroke="#000" stroke-width="0.8"/>
<line x1="516.6000000000001" y1="275.008" x2="520.2" y2="275.008" stroke="#000" stroke-width="0.8"/>
<circle cx="518.40" cy="271.15" r="1.5" fill="#000"/>
<line x1="529.94" y1="263.92199999999997" x2="529.94" y2="271.63399999999996" stroke="#000" stroke-width="0.8"/>
<line x1="528.1400000000001" y1="263.92199999999997" x2="531.74" y2="263.92199999999997" stroke="#000" stroke-width="0.8"/>
<line x1="528.1400000000001" y1="271.63399999999996" x2="531.74" y2="271.63399999999996" stroke="#000" stroke-width="0.8"/>
<circle cx="529.94" cy="267.78" r="1.5" fill="#000"/>
<line x1="541.48" y1="258.138" x2="541.48" y2="263.92199999999997" stroke="#000" stroke-width="0.8"/>
<line x1="539.6800000000001" y1="258.138" x2="543.28" y2="258.138" stroke="#000" stroke-width="0.8"/>
<line x1="539.6800000000001" y1="263.92199999999997" x2="543.28" y2="263.92199999999997" stroke="#000" stroke-width="0.8"/>
<circle cx="541.48" cy="261.03" r="1.5" fill="#000"/>
<line x1="553.02" y1="250.90799999999996" x2="553.02" y2="254.76399999999998" stroke="#000" stroke-width="0.8"/>
<line x1="551.22" y1="250.90799999999996" x2="554.8199999999999" y2="250.90799999999996" stroke="#000" stroke-width="0.8"/>
<line x1="551.22" y1="254.76399999999998" x2="554.8199999999999" y2="254.76399999999998" stroke="#000" stroke-width="0.8"/>
<circle cx="553.02" cy="252.84" r="1.5" fill="#000"/>
<line x1="564.56" y1="244.64199999999997" x2="564.56" y2="247.534" stroke="#000" stroke-width="0.8"/>
<line x1="562.76" y1="244.64199999999997" x2="566.3599999999999" y2="244.64199999999997" stroke="#000" stroke-width="0.8"/>
<line x1="562.76" y1="247.534" x2="566.3599999999999" y2="247.534" stroke="#000" stroke-width="0.8"/>
<circle cx="564.56" cy="246.09" r="1.5" fill="#000"/>
<line x1="379.92" y1="342.006" x2="379.92" y2="342.96999999999997" stroke="#ff0000" stroke-width="0.8"/>
<line x1="378.12" y1="342.006" x2="381.72" y2="342.006" stroke="#ff0000" stroke-width="0.8"/>
<line x1="378.12" y1="342.96999999999997" x2="381.72" y2="342.96999999999997" stroke="#ff0000" stroke-width="0.8"/>
<circle cx="379.92" cy="342.49" r="1.5" fill="#ff0000"/>
<line x1="391.46000000000004" y1="342.006" x2="391.46000000000004" y2="343.93399999999997" stroke="#ff0000" stroke-width="0.8"/>
<line x1="389.66" y1="342.006" x2="393.26000000000005" y2="342.006" stroke="#ff0000" stroke-width="0.8"/>
<line x1="389.66" y1="343.93399999999997" x2="393.26000000000005" y2="343.93399999999997" stroke="#ff0000" stroke-width="0.8"/>
<circle cx="391.46" cy="342.97" r="1.5" fill="#ff0000"/>
<line x1="403.0" y1="334.294" x2="403.0" y2="338.15" stroke="#ff0000" stroke-width="0.8"/>
<line x1="401.2" y1="334.294" x2="404.8" y2="334.294" stroke="#ff0000" stroke-width="0.8"/>
<line x1="401.2" y1="338.15" x2="404.8" y2="338.15" stroke="#ff0000" stroke-width="0.8"/>
<circle cx="403.00" cy="336.22" r="1.5" fill="#ff0000"/>
<line x1="414.54" y1="321.28" x2="414.54" y2="325.13599999999997" stroke="#ff0000" stroke-width="0.8"/>
<line x1="412.74" y1="321.28" x2="416.34000000000003" y2="321.28" stroke="#ff0000" stroke-width="0.8"/>
<line x1="412.74" y1="325.13599999999997" x2="416.34000000000003" y2="325.13599999999997" stroke="#ff0000" stroke-width="0.8"/>
<circle cx="414.54" cy="323.21" r="1.5" fill="#ff0000"/>
<line x1="426.08000000000004" y1="311.64" x2="426.08000000000004" y2="315.496" stroke="#ff0000" stroke-width="0.8"/>
<line x1="424.28000000000003" y1="311.64" x2="427.88000000000005" y2="311.64" stroke="#ff0000" stroke-width="0.8"/>
<line x1="424.28000000000003" y1="315.496" x2="427.88000000000005" y2="315.496" stroke="#ff0000" stroke-width="0.8"/>
<circle cx="426.08" cy="313.57" r="1.5" fill="#ff0000"/>
<line x1="437.62" y1="304.892" x2="437.62" y2="309.712" stroke="#ff0000" stroke-width="0.8"/>
<line x1="435.82" y1="304.892" x2="439.42" y2="304.892" stroke="#ff0000" stroke-width="0.8"/>
<line x1="435.82" y1="309.712" x2="439.42" y2="309.712" stroke="#ff0000" stroke-width="0.8"/>
<circle cx="437.62" cy="307.30" r="1.5" fill="#ff0000"/>
<line x1="449.16" y1="298.626" x2="449.16" y2="302.48199999999997" stroke="#ff0000" stroke-width="0.8"/>
<line x1="447.36" y1="298.626" x2="450.96000000000004" y2="298.626" stroke="#ff0000" stroke-width="0.8"/>
<line x1="447.36" y1="302.48199999999997" x2="450.96000000000004" y2="302.48199999999997" stroke="#ff0000" stroke-width="0.8"/>
<circle cx="449.16" cy="300.55" r="1.5" fill="#ff0000"/>
<line x1="460.70000000000005" y1="290.43199999999996" x2="460.70000000000005" y2="295.25199999999995" stroke="#ff0000" stroke-width="0.8"/>
<line x1="458.90000000000003" y1="290.43199999999996" x2="462.50000000000006" y2="290.43199999999996" stroke="#ff0000" stroke-width="0.8"/>
<line x1="458.90000000000003" y1="295.25199999999995" x2="462.50000000000006" y2="295.25199999999995" stroke="#ff0000" stroke-width="0.8"/>
<circle cx="460.70" cy="292.84" r="1.5" fill="#ff0000"/>
<line x1="472.24" y1="286.57599999999996" x2="472.24" y2="291.39599999999996" stroke="#ff0000" stroke-width="0.8"/>
<line x1="470.44" y1="286.57599999999996" x2="474.04" y2="286.57599999999996" stroke="#ff0000" stroke-width="0.8"/>
<line x1="470.44" y1="291.39599999999996" x2="474.04" y2="291.39599999999996" stroke="#ff0000" stroke-width="0.8"/>
<circle cx="472.24" cy="288.99" r="1.5" fill="#ff0000"/>
<line x1="483.78" y1="278.864" x2="483.78" y2="284.64799999999997" stroke="#ff0000" stroke-width="0.8"/>
<line x1="481.97999999999996" y1="278.864" x2="485.58" y2="278.864" stroke="#ff0000" stroke-width="0.8"/>
<line x1="481.97999999999996" y1="284.64799999999997" x2="485.58" y2="284.64799999999997" stroke="#ff0000" stroke-width="0.8"/>
<circle cx="483.78" cy="281.76" r="1.5" fill="#ff0000"/>
<line x1="495.32000000000005" y1="274.52599999999995" x2="495.32000000000005" y2="277.41799999999995" stroke="#ff0000" stroke-width="0.8"/>
<line x1="493.52000000000004" y1="274.52599999999995" x2="497.12000000000006" y2="274.52599999999995" stroke="#ff0000" stroke-width="0.8"/>
<line x1="493.52000000000004" y1="277.41799999999995" x2="497.12000000000006" y2="277.41799999999995" stroke="#ff0000" stroke-width="0.8"/>
<circle cx="495.32" cy="275.97" r="1.5" fill="#ff0000"/>
<line x1="506.86" y1="269.224" x2="506.86" y2="273.08" stroke="#ff0000" stroke-width="0.8"/>
<line x1="505.06" y1="269.224" x2="508.66" y2="269.224" stroke="#ff0000" stroke-width="0.8"/>
<line x1="505.06" y1="273.08" x2="508.66" y2="273.08" stroke="#ff0000" stroke-width="0.8"/>
<circle cx="506.86" cy="271.15" r="1.5" fill="#ff0000"/>
<line x1="518.4000000000001" y1="265.368" x2="518.4000000000001" y2="270.188" stroke="#ff0000" stroke-width="0.8"/>
<line x1="516.6000000000001" y1="265.368" x2="520.2" y2="265.368" stroke="#ff0000" stroke-width="0.8"/>
<line x1="516.6000000000001" y1="270.188" x2="520.2" y2="270.188" stroke="#ff0000" stroke-width="0.8"/>
<circle cx="518.40" cy="267.78" r="1.5" fill="#ff0000"/>
<line x1="529.94" y1="261.03" x2="529.94" y2="265.84999999999997" stroke="#ff0000" stroke-width="0.8"/>
<line x1="528.1400000000001" y1="261.03" x2="531.74" y2="261.03" stroke="#ff0000" stroke-width="0.8"/>
<line x1="528.1400000000001" y1="265.84999999999997" x2="531.74" y2="265.84999999999997" stroke="#ff0000" stroke-width="0.8"/>
<circle cx="529.94" cy="263.44" r="1.5" fill="#ff0000"/>
<line x1="541.48" y1="255.24599999999998" x2="541.48" y2="259.102" stroke="#ff0000" stroke-width="0.8"/>
<line x1="539.6800000000001" y1="255.24599999999998" x2="543.28" y2="255.24599999999998" stroke="#ff0000" stroke-width="0.8"/>
<line x1="539.6800000000001" y1="259.102" x2="543.28" y2="259.102" stroke="#ff0000" stroke-width="0.8"/>
<circle cx="541.48" cy="257.17" r="1.5" fill="#ff0000"/>
<line x1="553.02" y1="248.498" x2="553.02" y2="251.39" stroke="#ff0000" stroke-width="0.8"/>
<line x1="551.22" y1="248.498" x2="554.8199999999999" y2="248.498" stroke="#ff0000" stroke-width="0.8"/>
<line x1="551.22" y1="251.39" x2="554.8199999999999" y2="251.39" stroke="#ff0000" stroke-width="0.8"/>
<circle cx="553.02" cy="249.94" r="1.5" fill="#ff0000"/>
<line x1="564.56" y1="240.30399999999997" x2="564.56" y2="243.19599999999997" stroke="#ff0000" stroke-width="0.8"/>
<line x1="562.76" y1="240.30399999999997" x2="566.3599999999999" y2="240.30399999999997" stroke="#ff0000" stroke-width="0.8"/>
<line x1="562.76" y1="243.19599999999997" x2="566.3599999999999" y2="243.19599999999997" stroke="#ff0000" stroke-width="0.8"/>
<circle cx="564.56" cy="241.75" r="1.5" fill="#ff0000"/>
<polygon points="379.92,347.14 377.92,350.64 381.92,350.64" fill="#fff" stroke="#000" stroke-width="0.6"/>
<polygon points="391.46,339.42 389.46,342.92 393.46,342.92" fill="#fff" stroke="#000" stroke-width="0.6"/>
<polygon points="403.00,331.23 401.00,334.73 405.00,334.73" fill="#fff" stroke="#000" stroke-width="0.6"/>
<polygon points="414.54,324.48 412.54,327.98 416.54,327.98" fill="#fff" stroke="#000" stroke-width="0.6"/>
<polygon points="426.08,316.29 424.08,319.79 428.08,319.79" fill="#fff" stroke="#000" stroke-width="0.6"/>
<polygon points="437.62,309.06 435.62,312.56 439.62,312.56" fill="#fff" stroke="#000" stroke-width="0.6"/>
<polygon points="449.16,301.83 447.16,305.33 451.16,305.33" fill="#fff" stroke="#000" stroke-width="0.6"/>
<polygon points="460.70,295.08 458.70,298.58 462.70,298.58" fill="#fff" stroke="#000" stroke-width="0.6"/>
<polygon points="472.24,289.30 470.24,292.80 474.24,292.80" fill="#fff" stroke="#000" stroke-width="0.6"/>
<polygon points="483.78,282.07 481.78,285.57 485.78,285.57" fill="#fff" stroke="#000" stroke-width="0.6"/>
<polygon points="495.32,273.87 493.32,277.37 497.32,277.37" fill="#fff" stroke="#000" stroke-width="0.6"/>
<polygon points="506.86,267.12 504.86,270.62 508.86,270.62" fill="#fff" stroke="#000" stroke-width="0.6"/>
<polygon points="518.40,261.82 516.40,265.32 520.40,265.32" fill="#fff" stroke="#000" stroke-width="0.6"/>
<polygon points="529.94,256.52 527.94,260.02 531.94,260.02" fill="#fff" stroke="#000" stroke-width="0.6"/>
<polygon points="541.48,251.70 539.48,255.20 543.48,255.20" fill="#fff" stroke="#000" stroke-width="0.6"/>
<polygon points="553.02,246.40 551.02,249.90 555.02,249.90" fill="#fff" stroke="#000" stroke-width="0.6"/>
<polygon points="564.56,242.06 562.56,245.56 566.56,245.56" fill="#fff" stroke="#000" stroke-width="0.6"/>
<polygon points="576.10,241.10 574.10,244.60 578.10,244.60" fill="#fff" stroke="#000" stroke-width="0.6"/>
<rect x="477.2" y="329.4" width="121.1" height="27.9" fill="#fff" stroke="#aaa" stroke-width="0.8"/>
<circle cx="490.8" cy="336" r="1.6" fill="#000"/>
<circle cx="490.8" cy="343" r="1.6" fill="#ff0000"/>
<polygon points="490.8,349.6 488.9,352.9 492.7,352.9" fill="#fff" stroke="#000" stroke-width="0.6"/>
<text class="san" x="505.7" y="338.2" font-size="6.6" text-anchor="start" fill="#111" textLength="84.9" lengthAdjust="spacingAndGlyphs" >Reconstruction no attenuation</text>
<text class="san" x="505.7" y="345.3" font-size="6.6" text-anchor="start" fill="#111" textLength="90" lengthAdjust="spacingAndGlyphs" >Reconstruction with attenuation</text>
<text class="san" x="505.7" y="353.0" font-size="6.6" text-anchor="start" fill="#111" textLength="34.5" lengthAdjust="spacingAndGlyphs" >Monte Carlo</text>
<text class="ser" x="446.0" y="406.5" font-size="18.5" text-anchor="start" fill="#000" >(</text>
<text class="ser" x="465.8" y="406.5" font-size="18.5" text-anchor="end" fill="#000" >)</text>
<text class="ser" x="455.9" y="407" font-size="16" text-anchor="middle" fill="#000" >d</text>
</svg></body></html>
